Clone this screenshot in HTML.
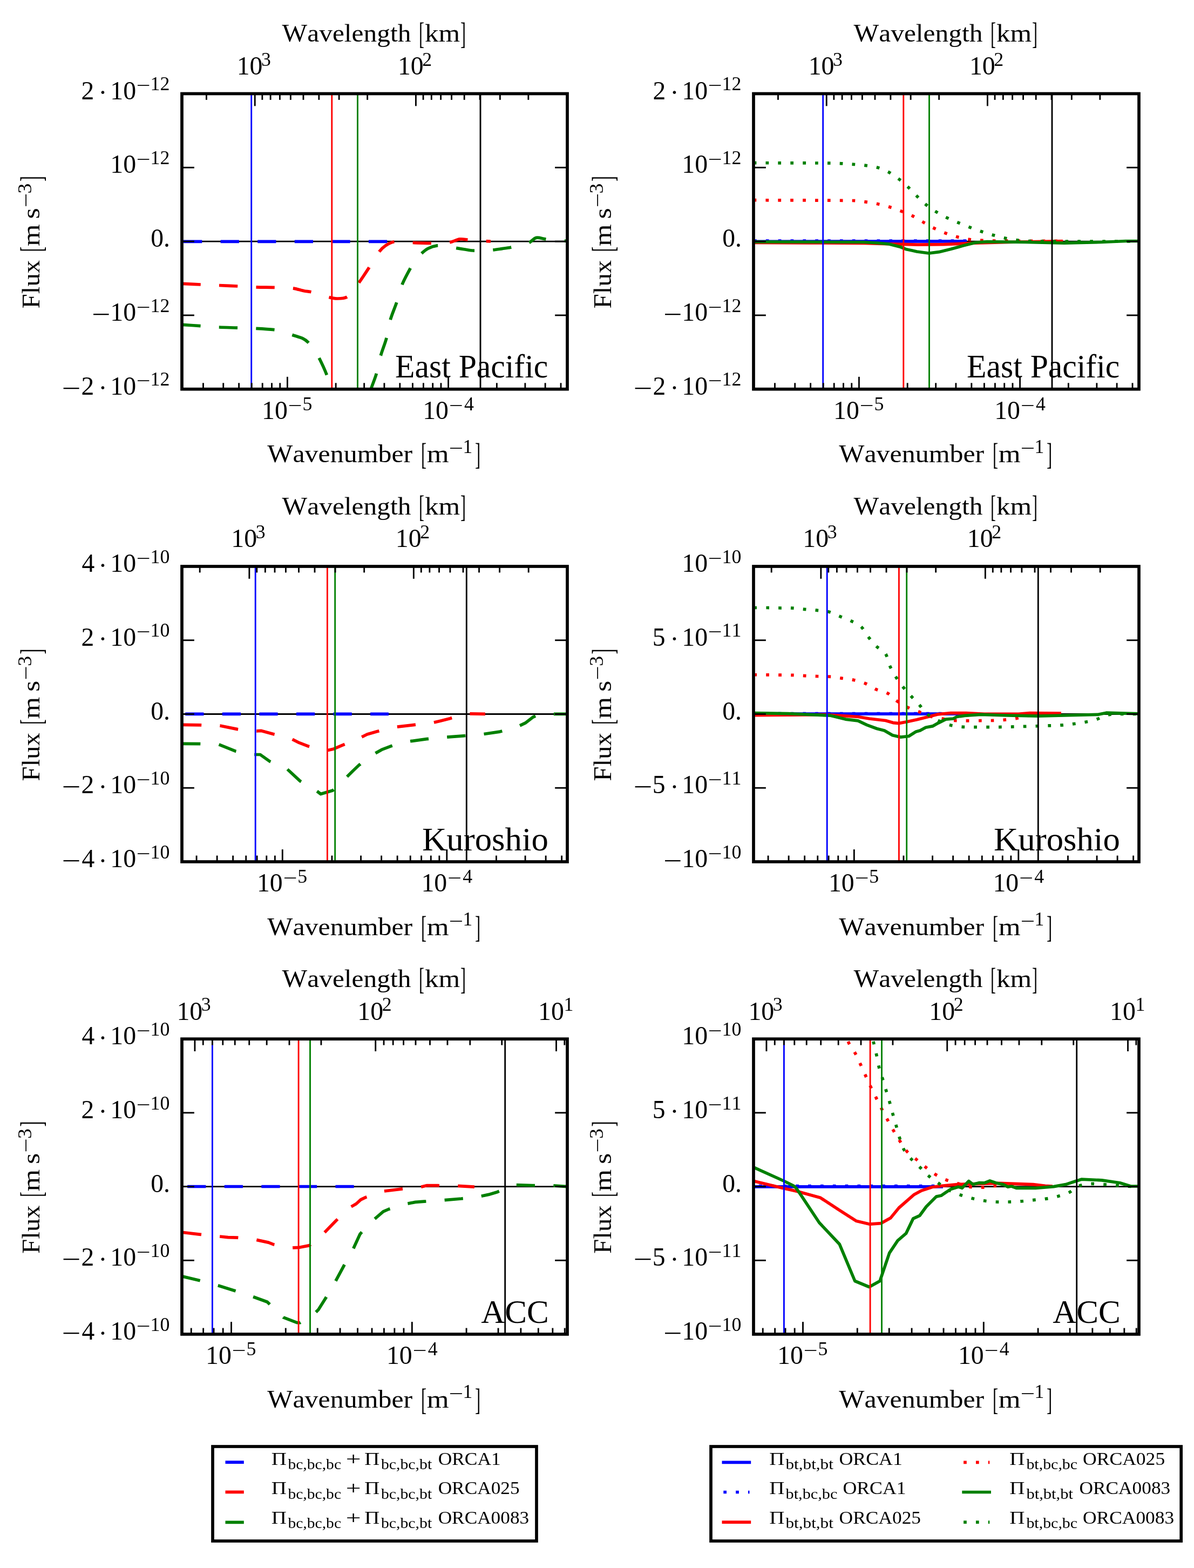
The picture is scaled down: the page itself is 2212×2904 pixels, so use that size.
<!DOCTYPE html>
<html><head><meta charset="utf-8"><title>Flux spectra</title><style>html,body{margin:0;padding:0;background:#fff}svg{display:block}text{font-kerning:none;font-variant-ligatures:none;white-space:pre}</style></head>
<body>
<svg width="2212" height="2904" viewBox="0 0 2212 2904">
<rect width="2212" height="2904" fill="#fff"/>
<g font-family="'Liberation Serif', serif" fill="#000" stroke-linecap="butt">
<clipPath id="clip00"><rect x="337.00" y="173.50" width="714.00" height="547.20"/></clipPath>
<line x1="337.00" y1="447.10" x2="1051.00" y2="447.10" stroke="#000" stroke-width="2.86" clip-path="url(#clip00)"/>
<path d="M337.00,447.40 L720.00,447.40" fill="none" stroke="#0000ff" stroke-width="5.71" stroke-linejoin="round" stroke-dasharray="34.29 34.29" stroke-dashoffset="65.58" clip-path="url(#clip00)"/>
<path d="M337.00,525.30 C342.83,525.58 360.50,526.47 372.00,527.00 C383.33,527.53 394.67,528.00 406.00,528.50 C417.33,529.00 428.67,529.45 440.00,530.00 C451.33,530.55 462.67,531.40 474.00,531.80 C485.33,532.20 496.83,532.10 508.00,532.40 C519.00,532.70 531.83,532.53 541.00,533.60 C548.48,534.47 557.27,537.65 563.00,538.80 C567.09,539.62 571.30,539.71 575.40,540.50 C579.90,541.37 585.20,542.59 590.00,544.00 C595.60,545.65 603.17,548.90 609.00,550.40 C614.23,551.75 619.60,553.06 625.00,553.00 C630.67,552.93 638.17,552.67 643.00,550.00 C647.83,547.33 650.38,541.37 654.00,537.00 C657.70,532.53 661.74,528.01 665.20,523.20 C670.18,516.27 677.78,504.74 683.90,495.40 C690.15,485.87 697.63,472.77 702.70,466.00 C705.92,461.70 709.82,457.76 714.30,454.80 C718.92,451.75 724.78,448.70 730.40,447.70 C736.02,446.70 742.20,448.50 748.00,448.80 C753.73,449.10 759.46,449.32 765.20,449.50 C773.72,449.77 790.47,450.32 799.10,450.40 C805.07,450.46 811.20,450.30 817.00,450.00 C822.65,449.71 828.36,449.73 833.90,448.60 C839.70,447.42 846.28,443.65 851.80,442.90 C856.84,442.22 861.94,443.61 867.00,444.10 C872.37,444.62 878.31,445.61 884.00,446.00 C891.00,446.48 904.83,446.83 909.00,447.00" fill="none" stroke="#ff0000" stroke-width="5.71" stroke-linejoin="round" stroke-dasharray="34.29 34.29" stroke-dashoffset="68.09" clip-path="url(#clip00)"/>
<path d="M337.00,601.30 C342.67,601.68 359.67,602.83 371.00,603.60 C382.47,604.38 394.45,605.42 405.80,606.00 C416.89,606.57 428.00,606.71 439.10,607.10 C450.47,607.50 462.60,607.80 474.00,608.40 C485.18,608.99 499.00,609.77 507.50,610.70 C513.40,611.35 519.47,612.45 525.00,614.00 C530.39,615.51 535.43,618.10 540.70,620.00 C546.77,622.18 556.33,624.72 561.40,627.10 C565.04,628.81 568.27,631.43 571.10,634.30 C574.53,637.78 578.73,643.37 582.00,648.00 C585.18,652.51 588.20,657.18 590.70,662.10 C594.47,669.52 600.72,682.52 604.60,692.50 C608.34,702.12 611.42,712.01 614.00,722.00 C616.90,733.25 620.67,753.67 622.00,760.00" fill="none" stroke="#008000" stroke-width="5.71" stroke-linejoin="round" stroke-dasharray="34.29 34.29" stroke-dashoffset="68.20" clip-path="url(#clip00)"/>
<path d="M682.00,740.00 C682.92,736.67 685.39,726.58 687.50,720.00 C690.05,712.05 694.57,701.71 697.30,692.30 C700.28,682.03 702.28,669.40 705.40,658.40 C708.47,647.56 713.07,637.18 716.00,626.30 C718.97,615.28 720.07,603.32 723.20,592.30 C726.31,581.36 731.23,570.92 734.80,560.20 C738.34,549.55 740.43,538.42 744.60,528.00 C748.77,517.58 755.57,505.37 759.80,497.70 C762.82,492.24 766.57,486.62 770.00,482.00 C773.16,477.75 776.58,473.63 780.40,470.00 C784.22,466.37 788.20,462.63 792.90,460.20 C797.80,457.67 804.12,455.50 809.80,454.80 C815.48,454.10 821.30,455.26 827.00,456.00 C832.80,456.75 839.10,458.33 844.60,459.30 C849.72,460.20 854.85,461.04 860.00,461.80 C865.55,462.62 872.07,463.92 877.90,464.20 C883.60,464.48 889.30,463.70 895.00,463.50 C900.75,463.30 906.62,463.48 912.40,463.00 C918.27,462.52 924.65,461.40 930.20,460.60 C935.37,459.85 940.58,459.26 945.70,458.20 C951.00,457.10 956.55,455.33 962.00,454.00 C967.65,452.62 974.38,452.17 979.60,449.90 C984.70,447.69 988.33,441.60 993.30,440.40 C998.27,439.20 1004.03,441.94 1009.40,442.70 C1014.85,443.47 1020.44,444.49 1026.00,445.00 C1032.93,445.63 1046.83,446.25 1051.00,446.50" fill="none" stroke="#008000" stroke-width="5.71" stroke-linejoin="round" stroke-dasharray="34.29 34.29" stroke-dashoffset="52.18" clip-path="url(#clip00)"/>
<line x1="465.70" y1="173.50" x2="465.70" y2="720.70" stroke="#0000ff" stroke-width="2.86"/>
<line x1="614.80" y1="173.50" x2="614.80" y2="720.70" stroke="#ff0000" stroke-width="2.86"/>
<line x1="662.50" y1="173.50" x2="662.50" y2="720.70" stroke="#008000" stroke-width="2.86"/>
<line x1="890.00" y1="173.50" x2="890.00" y2="720.70" stroke="#000" stroke-width="2.86"/>
<line x1="376.48" y1="720.70" x2="376.48" y2="709.27" stroke="#000" stroke-width="2.86"/>
<line x1="413.73" y1="720.70" x2="413.73" y2="709.27" stroke="#000" stroke-width="2.86"/>
<line x1="442.63" y1="720.70" x2="442.63" y2="709.27" stroke="#000" stroke-width="2.86"/>
<line x1="466.24" y1="720.70" x2="466.24" y2="709.27" stroke="#000" stroke-width="2.86"/>
<line x1="486.21" y1="720.70" x2="486.21" y2="709.27" stroke="#000" stroke-width="2.86"/>
<line x1="503.50" y1="720.70" x2="503.50" y2="709.27" stroke="#000" stroke-width="2.86"/>
<line x1="518.76" y1="720.70" x2="518.76" y2="709.27" stroke="#000" stroke-width="2.86"/>
<line x1="532.40" y1="720.70" x2="532.40" y2="697.84" stroke="#000" stroke-width="2.86"/>
<line x1="622.17" y1="720.70" x2="622.17" y2="709.27" stroke="#000" stroke-width="2.86"/>
<line x1="674.68" y1="720.70" x2="674.68" y2="709.27" stroke="#000" stroke-width="2.86"/>
<line x1="711.93" y1="720.70" x2="711.93" y2="709.27" stroke="#000" stroke-width="2.86"/>
<line x1="740.83" y1="720.70" x2="740.83" y2="709.27" stroke="#000" stroke-width="2.86"/>
<line x1="764.44" y1="720.70" x2="764.44" y2="709.27" stroke="#000" stroke-width="2.86"/>
<line x1="784.41" y1="720.70" x2="784.41" y2="709.27" stroke="#000" stroke-width="2.86"/>
<line x1="801.70" y1="720.70" x2="801.70" y2="709.27" stroke="#000" stroke-width="2.86"/>
<line x1="816.96" y1="720.70" x2="816.96" y2="709.27" stroke="#000" stroke-width="2.86"/>
<line x1="830.60" y1="720.70" x2="830.60" y2="697.84" stroke="#000" stroke-width="2.86"/>
<line x1="920.37" y1="720.70" x2="920.37" y2="709.27" stroke="#000" stroke-width="2.86"/>
<line x1="972.88" y1="720.70" x2="972.88" y2="709.27" stroke="#000" stroke-width="2.86"/>
<line x1="1010.13" y1="720.70" x2="1010.13" y2="709.27" stroke="#000" stroke-width="2.86"/>
<line x1="1039.03" y1="720.70" x2="1039.03" y2="709.27" stroke="#000" stroke-width="2.86"/>
<line x1="978.85" y1="173.50" x2="978.85" y2="184.93" stroke="#000" stroke-width="2.86"/>
<line x1="926.34" y1="173.50" x2="926.34" y2="184.93" stroke="#000" stroke-width="2.86"/>
<line x1="889.08" y1="173.50" x2="889.08" y2="184.93" stroke="#000" stroke-width="2.86"/>
<line x1="860.18" y1="173.50" x2="860.18" y2="184.93" stroke="#000" stroke-width="2.86"/>
<line x1="836.57" y1="173.50" x2="836.57" y2="184.93" stroke="#000" stroke-width="2.86"/>
<line x1="816.61" y1="173.50" x2="816.61" y2="184.93" stroke="#000" stroke-width="2.86"/>
<line x1="799.32" y1="173.50" x2="799.32" y2="184.93" stroke="#000" stroke-width="2.86"/>
<line x1="784.06" y1="173.50" x2="784.06" y2="184.93" stroke="#000" stroke-width="2.86"/>
<line x1="770.42" y1="173.50" x2="770.42" y2="196.36" stroke="#000" stroke-width="2.86"/>
<line x1="680.65" y1="173.50" x2="680.65" y2="184.93" stroke="#000" stroke-width="2.86"/>
<line x1="628.14" y1="173.50" x2="628.14" y2="184.93" stroke="#000" stroke-width="2.86"/>
<line x1="590.88" y1="173.50" x2="590.88" y2="184.93" stroke="#000" stroke-width="2.86"/>
<line x1="561.98" y1="173.50" x2="561.98" y2="184.93" stroke="#000" stroke-width="2.86"/>
<line x1="538.37" y1="173.50" x2="538.37" y2="184.93" stroke="#000" stroke-width="2.86"/>
<line x1="518.41" y1="173.50" x2="518.41" y2="184.93" stroke="#000" stroke-width="2.86"/>
<line x1="501.12" y1="173.50" x2="501.12" y2="184.93" stroke="#000" stroke-width="2.86"/>
<line x1="485.86" y1="173.50" x2="485.86" y2="184.93" stroke="#000" stroke-width="2.86"/>
<line x1="472.22" y1="173.50" x2="472.22" y2="196.36" stroke="#000" stroke-width="2.86"/>
<line x1="382.45" y1="173.50" x2="382.45" y2="184.93" stroke="#000" stroke-width="2.86"/>
<line x1="337.00" y1="173.50" x2="359.86" y2="173.50" stroke="#000" stroke-width="2.86"/>
<line x1="1051.00" y1="173.50" x2="1028.14" y2="173.50" stroke="#000" stroke-width="2.86"/>
<line x1="337.00" y1="310.30" x2="359.86" y2="310.30" stroke="#000" stroke-width="2.86"/>
<line x1="1051.00" y1="310.30" x2="1028.14" y2="310.30" stroke="#000" stroke-width="2.86"/>
<line x1="337.00" y1="447.10" x2="359.86" y2="447.10" stroke="#000" stroke-width="2.86"/>
<line x1="1051.00" y1="447.10" x2="1028.14" y2="447.10" stroke="#000" stroke-width="2.86"/>
<line x1="337.00" y1="583.90" x2="359.86" y2="583.90" stroke="#000" stroke-width="2.86"/>
<line x1="1051.00" y1="583.90" x2="1028.14" y2="583.90" stroke="#000" stroke-width="2.86"/>
<line x1="337.00" y1="720.70" x2="359.86" y2="720.70" stroke="#000" stroke-width="2.86"/>
<line x1="1051.00" y1="720.70" x2="1028.14" y2="720.70" stroke="#000" stroke-width="2.86"/>
<rect x="337.00" y="173.50" width="714.00" height="547.20" fill="none" stroke="#000" stroke-width="5.71"/>
<text x="204.30" y="183.50" font-size="47.60" textLength="47.82" lengthAdjust="spacingAndGlyphs">10</text>
<text x="252.61" y="170.20" font-size="35.80" textLength="25.94" lengthAdjust="spacingAndGlyphs">−</text>
<text x="278.55" y="167.20" font-size="35.80">12</text>
<text x="150.41" y="183.50" font-size="47.60">2</text>
<text x="182.49" y="187.00" font-size="47.60">·</text>
<text x="204.30" y="320.30" font-size="47.60" textLength="47.82" lengthAdjust="spacingAndGlyphs">10</text>
<text x="252.61" y="307.00" font-size="35.80" textLength="25.94" lengthAdjust="spacingAndGlyphs">−</text>
<text x="278.55" y="304.00" font-size="35.80">12</text>
<text x="279.19" y="457.10" font-size="47.60">0.</text>
<text x="204.30" y="593.90" font-size="47.60" textLength="47.82" lengthAdjust="spacingAndGlyphs">10</text>
<text x="252.61" y="580.60" font-size="35.80" textLength="25.94" lengthAdjust="spacingAndGlyphs">−</text>
<text x="278.55" y="577.60" font-size="35.80">12</text>
<text x="170.24" y="597.90" font-size="47.60" textLength="34.66" lengthAdjust="spacingAndGlyphs">−</text>
<text x="204.30" y="730.70" font-size="47.60" textLength="47.82" lengthAdjust="spacingAndGlyphs">10</text>
<text x="252.61" y="717.40" font-size="35.80" textLength="25.94" lengthAdjust="spacingAndGlyphs">−</text>
<text x="278.55" y="714.40" font-size="35.80">12</text>
<text x="150.41" y="730.70" font-size="47.60">2</text>
<text x="182.49" y="734.20" font-size="47.60">·</text>
<text x="114.80" y="734.70" font-size="47.60" textLength="35.15" lengthAdjust="spacingAndGlyphs">−</text>
<text x="485.00" y="776.00" font-size="47.60" textLength="47.82" lengthAdjust="spacingAndGlyphs">10</text>
<text x="533.51" y="762.70" font-size="35.80" textLength="25.94" lengthAdjust="spacingAndGlyphs">−</text>
<text x="560.42" y="759.70" font-size="35.80">5</text>
<text x="783.20" y="776.00" font-size="47.60" textLength="47.82" lengthAdjust="spacingAndGlyphs">10</text>
<text x="831.71" y="762.70" font-size="35.80" textLength="25.94" lengthAdjust="spacingAndGlyphs">−</text>
<text x="860.00" y="759.70" font-size="35.80">4</text>
<text x="438.71" y="137.90" font-size="47.60" textLength="47.82" lengthAdjust="spacingAndGlyphs">10</text>
<text x="484.00" y="121.60" font-size="35.80">3</text>
<text x="736.91" y="137.90" font-size="47.60" textLength="47.82" lengthAdjust="spacingAndGlyphs">10</text>
<text x="782.34" y="121.60" font-size="35.80">2</text>
<text x="522.55" y="77.10" font-size="47.20" textLength="238.90" lengthAdjust="spacingAndGlyphs">Wavelength</text>
<text x="776.07" y="81.10" font-size="57.40" textLength="10.02" lengthAdjust="spacingAndGlyphs">[</text>
<text x="786.93" y="77.10" font-size="47.20" textLength="65.12" lengthAdjust="spacingAndGlyphs">km</text>
<text x="852.91" y="81.10" font-size="57.40" textLength="10.02" lengthAdjust="spacingAndGlyphs">]</text>
<text x="495.35" y="856.30" font-size="47.20" textLength="268.89" lengthAdjust="spacingAndGlyphs">Wavenumber</text>
<text x="780.03" y="860.30" font-size="57.40" textLength="10.17" lengthAdjust="spacingAndGlyphs">[</text>
<text x="790.70" y="856.30" font-size="47.20" textLength="40.93" lengthAdjust="spacingAndGlyphs">m</text>
<text x="831.56" y="842.20" font-size="35.80" textLength="26.54" lengthAdjust="spacingAndGlyphs">−</text>
<text x="857.58" y="838.90" font-size="35.80" textLength="17.75" lengthAdjust="spacingAndGlyphs">1</text>
<text x="880.00" y="860.30" font-size="57.40" textLength="10.17" lengthAdjust="spacingAndGlyphs">]</text>
<g transform="translate(73.00,570.00) rotate(-90)">
<text x="-1.41" y="0.00" font-size="47.20" textLength="89.71" lengthAdjust="spacingAndGlyphs">Flux</text>
<text x="103.40" y="4.00" font-size="57.40" textLength="9.87" lengthAdjust="spacingAndGlyphs">[</text>
<text x="114.00" y="0.00" font-size="47.20" textLength="40.72" lengthAdjust="spacingAndGlyphs">m</text>
<text x="164.46" y="0.00" font-size="47.20" textLength="20.33" lengthAdjust="spacingAndGlyphs">s</text>
<text x="185.68" y="-13.00" font-size="35.80" textLength="26.30" lengthAdjust="spacingAndGlyphs">−</text>
<text x="211.59" y="-15.00" font-size="35.80" textLength="18.88" lengthAdjust="spacingAndGlyphs">3</text>
<text x="234.03" y="4.00" font-size="57.40" textLength="9.87" lengthAdjust="spacingAndGlyphs">]</text>
</g>
<text x="732.08" y="699.20" font-size="60.30" textLength="283.15" lengthAdjust="spacingAndGlyphs">East Pacific</text>
<clipPath id="clip01"><rect x="1396.00" y="173.50" width="714.00" height="547.20"/></clipPath>
<line x1="1396.00" y1="447.10" x2="2110.00" y2="447.10" stroke="#000" stroke-width="2.86" clip-path="url(#clip01)"/>
<path d="M1396.00,447.30 L1791.00,446.80" fill="none" stroke="#0000ff" stroke-width="5.71" stroke-linejoin="round" clip-path="url(#clip01)"/>
<path d="M1396.00,446.00 L1791.00,446.00" fill="none" stroke="#0000ff" stroke-width="5.71" stroke-linejoin="round" stroke-dasharray="5.71 17.14" clip-path="url(#clip01)"/>
<path d="M1396.00,449.50 L1500.00,449.80 L1600.00,450.50 L1650.00,451.80 L1700.00,453.20 L1749.00,452.60 L1806.00,450.20 L1870.00,448.50 L1969.00,446.50" fill="none" stroke="#ff0000" stroke-width="5.71" stroke-linejoin="round" clip-path="url(#clip01)"/>
<path d="M1396.00,370.70 C1426.67,370.83 1545.47,370.97 1580.00,371.50 C1587.77,371.62 1595.50,372.85 1603.20,373.90 C1610.92,374.95 1618.73,376.18 1626.30,377.80 C1633.81,379.40 1641.38,381.38 1648.60,383.60 C1655.71,385.78 1662.67,388.40 1669.60,391.10 C1676.67,393.85 1684.22,396.72 1691.00,400.10 C1697.67,403.43 1703.83,407.70 1710.30,411.40 C1716.85,415.15 1723.50,419.23 1730.30,422.60 C1737.07,425.95 1744.08,428.93 1751.10,431.60 C1758.09,434.26 1765.18,436.68 1772.40,438.60 C1779.73,440.55 1787.62,442.20 1795.10,443.30 C1802.45,444.38 1809.89,444.76 1817.30,445.20 C1824.92,445.65 1832.96,445.93 1840.80,446.00 C1866.08,446.22 1947.63,446.42 1969.00,446.50" fill="none" stroke="#ff0000" stroke-width="5.71" stroke-linejoin="round" stroke-dasharray="5.71 17.14" stroke-dashoffset="0.26" clip-path="url(#clip01)"/>
<path d="M1396.00,447.80 L1600.00,448.50 L1625.70,450.00 L1647.00,452.00 L1668.60,457.50 L1679.30,461.80 L1690.00,464.00 L1698.60,466.00 L1721.00,469.00 L1739.50,466.70 L1761.80,461.30 L1784.00,455.10 L1806.20,449.40 L1828.50,447.70 L1900.00,448.50 L1971.70,450.20 L2040.00,448.50 L2085.40,446.50 L2110.00,446.50" fill="none" stroke="#008000" stroke-width="5.71" stroke-linejoin="round" clip-path="url(#clip01)"/>
<path d="M1396.00,301.70 C1419.22,301.77 1508.30,301.92 1535.30,302.10 C1542.87,302.15 1550.44,302.43 1558.00,302.80 C1565.57,303.17 1573.17,303.70 1580.70,304.30 C1588.21,304.90 1595.73,305.40 1603.20,306.40 C1610.70,307.40 1618.45,308.22 1625.70,310.30 C1632.95,312.38 1640.05,315.29 1646.70,318.90 C1653.38,322.53 1659.83,327.47 1665.80,332.10 C1671.64,336.63 1677.13,341.61 1682.50,346.70 C1687.97,351.88 1693.22,357.90 1698.60,363.20 C1703.89,368.41 1709.05,373.80 1714.80,378.50 C1720.58,383.23 1726.92,387.57 1733.30,391.60 C1739.68,395.63 1746.33,399.33 1753.10,402.70 C1759.90,406.08 1767.10,408.97 1774.10,411.90 C1781.05,414.81 1788.06,417.60 1795.10,420.30 C1802.18,423.02 1809.40,425.77 1816.60,428.20 C1823.77,430.62 1831.02,432.82 1838.30,434.90 C1845.63,437.00 1853.18,439.17 1860.60,440.80 C1867.94,442.42 1875.34,443.77 1882.80,444.70 C1890.42,445.65 1898.45,446.23 1906.30,446.50 C1917.50,446.88 1935.43,446.96 1950.00,447.00 C1983.95,447.08 2083.33,447.00 2110.00,447.00" fill="none" stroke="#008000" stroke-width="5.71" stroke-linejoin="round" stroke-dasharray="5.71 17.14" stroke-dashoffset="0.26" clip-path="url(#clip01)"/>
<line x1="1524.70" y1="173.50" x2="1524.70" y2="720.70" stroke="#0000ff" stroke-width="2.86"/>
<line x1="1673.80" y1="173.50" x2="1673.80" y2="720.70" stroke="#ff0000" stroke-width="2.86"/>
<line x1="1721.50" y1="173.50" x2="1721.50" y2="720.70" stroke="#008000" stroke-width="2.86"/>
<line x1="1949.00" y1="173.50" x2="1949.00" y2="720.70" stroke="#000" stroke-width="2.86"/>
<line x1="1435.48" y1="720.70" x2="1435.48" y2="709.27" stroke="#000" stroke-width="2.86"/>
<line x1="1472.73" y1="720.70" x2="1472.73" y2="709.27" stroke="#000" stroke-width="2.86"/>
<line x1="1501.63" y1="720.70" x2="1501.63" y2="709.27" stroke="#000" stroke-width="2.86"/>
<line x1="1525.24" y1="720.70" x2="1525.24" y2="709.27" stroke="#000" stroke-width="2.86"/>
<line x1="1545.21" y1="720.70" x2="1545.21" y2="709.27" stroke="#000" stroke-width="2.86"/>
<line x1="1562.50" y1="720.70" x2="1562.50" y2="709.27" stroke="#000" stroke-width="2.86"/>
<line x1="1577.76" y1="720.70" x2="1577.76" y2="709.27" stroke="#000" stroke-width="2.86"/>
<line x1="1591.40" y1="720.70" x2="1591.40" y2="697.84" stroke="#000" stroke-width="2.86"/>
<line x1="1681.17" y1="720.70" x2="1681.17" y2="709.27" stroke="#000" stroke-width="2.86"/>
<line x1="1733.68" y1="720.70" x2="1733.68" y2="709.27" stroke="#000" stroke-width="2.86"/>
<line x1="1770.93" y1="720.70" x2="1770.93" y2="709.27" stroke="#000" stroke-width="2.86"/>
<line x1="1799.83" y1="720.70" x2="1799.83" y2="709.27" stroke="#000" stroke-width="2.86"/>
<line x1="1823.44" y1="720.70" x2="1823.44" y2="709.27" stroke="#000" stroke-width="2.86"/>
<line x1="1843.41" y1="720.70" x2="1843.41" y2="709.27" stroke="#000" stroke-width="2.86"/>
<line x1="1860.70" y1="720.70" x2="1860.70" y2="709.27" stroke="#000" stroke-width="2.86"/>
<line x1="1875.96" y1="720.70" x2="1875.96" y2="709.27" stroke="#000" stroke-width="2.86"/>
<line x1="1889.60" y1="720.70" x2="1889.60" y2="697.84" stroke="#000" stroke-width="2.86"/>
<line x1="1979.37" y1="720.70" x2="1979.37" y2="709.27" stroke="#000" stroke-width="2.86"/>
<line x1="2031.88" y1="720.70" x2="2031.88" y2="709.27" stroke="#000" stroke-width="2.86"/>
<line x1="2069.13" y1="720.70" x2="2069.13" y2="709.27" stroke="#000" stroke-width="2.86"/>
<line x1="2098.03" y1="720.70" x2="2098.03" y2="709.27" stroke="#000" stroke-width="2.86"/>
<line x1="2037.85" y1="173.50" x2="2037.85" y2="184.93" stroke="#000" stroke-width="2.86"/>
<line x1="1985.34" y1="173.50" x2="1985.34" y2="184.93" stroke="#000" stroke-width="2.86"/>
<line x1="1948.08" y1="173.50" x2="1948.08" y2="184.93" stroke="#000" stroke-width="2.86"/>
<line x1="1919.18" y1="173.50" x2="1919.18" y2="184.93" stroke="#000" stroke-width="2.86"/>
<line x1="1895.57" y1="173.50" x2="1895.57" y2="184.93" stroke="#000" stroke-width="2.86"/>
<line x1="1875.61" y1="173.50" x2="1875.61" y2="184.93" stroke="#000" stroke-width="2.86"/>
<line x1="1858.32" y1="173.50" x2="1858.32" y2="184.93" stroke="#000" stroke-width="2.86"/>
<line x1="1843.06" y1="173.50" x2="1843.06" y2="184.93" stroke="#000" stroke-width="2.86"/>
<line x1="1829.42" y1="173.50" x2="1829.42" y2="196.36" stroke="#000" stroke-width="2.86"/>
<line x1="1739.65" y1="173.50" x2="1739.65" y2="184.93" stroke="#000" stroke-width="2.86"/>
<line x1="1687.14" y1="173.50" x2="1687.14" y2="184.93" stroke="#000" stroke-width="2.86"/>
<line x1="1649.88" y1="173.50" x2="1649.88" y2="184.93" stroke="#000" stroke-width="2.86"/>
<line x1="1620.98" y1="173.50" x2="1620.98" y2="184.93" stroke="#000" stroke-width="2.86"/>
<line x1="1597.37" y1="173.50" x2="1597.37" y2="184.93" stroke="#000" stroke-width="2.86"/>
<line x1="1577.41" y1="173.50" x2="1577.41" y2="184.93" stroke="#000" stroke-width="2.86"/>
<line x1="1560.12" y1="173.50" x2="1560.12" y2="184.93" stroke="#000" stroke-width="2.86"/>
<line x1="1544.86" y1="173.50" x2="1544.86" y2="184.93" stroke="#000" stroke-width="2.86"/>
<line x1="1531.22" y1="173.50" x2="1531.22" y2="196.36" stroke="#000" stroke-width="2.86"/>
<line x1="1441.45" y1="173.50" x2="1441.45" y2="184.93" stroke="#000" stroke-width="2.86"/>
<line x1="1396.00" y1="173.50" x2="1418.86" y2="173.50" stroke="#000" stroke-width="2.86"/>
<line x1="2110.00" y1="173.50" x2="2087.14" y2="173.50" stroke="#000" stroke-width="2.86"/>
<line x1="1396.00" y1="310.30" x2="1418.86" y2="310.30" stroke="#000" stroke-width="2.86"/>
<line x1="2110.00" y1="310.30" x2="2087.14" y2="310.30" stroke="#000" stroke-width="2.86"/>
<line x1="1396.00" y1="447.10" x2="1418.86" y2="447.10" stroke="#000" stroke-width="2.86"/>
<line x1="2110.00" y1="447.10" x2="2087.14" y2="447.10" stroke="#000" stroke-width="2.86"/>
<line x1="1396.00" y1="583.90" x2="1418.86" y2="583.90" stroke="#000" stroke-width="2.86"/>
<line x1="2110.00" y1="583.90" x2="2087.14" y2="583.90" stroke="#000" stroke-width="2.86"/>
<line x1="1396.00" y1="720.70" x2="1418.86" y2="720.70" stroke="#000" stroke-width="2.86"/>
<line x1="2110.00" y1="720.70" x2="2087.14" y2="720.70" stroke="#000" stroke-width="2.86"/>
<rect x="1396.00" y="173.50" width="714.00" height="547.20" fill="none" stroke="#000" stroke-width="5.71"/>
<text x="1263.30" y="183.50" font-size="47.60" textLength="47.82" lengthAdjust="spacingAndGlyphs">10</text>
<text x="1311.61" y="170.20" font-size="35.80" textLength="25.94" lengthAdjust="spacingAndGlyphs">−</text>
<text x="1337.55" y="167.20" font-size="35.80">12</text>
<text x="1209.41" y="183.50" font-size="47.60">2</text>
<text x="1241.49" y="187.00" font-size="47.60">·</text>
<text x="1263.30" y="320.30" font-size="47.60" textLength="47.82" lengthAdjust="spacingAndGlyphs">10</text>
<text x="1311.61" y="307.00" font-size="35.80" textLength="25.94" lengthAdjust="spacingAndGlyphs">−</text>
<text x="1337.55" y="304.00" font-size="35.80">12</text>
<text x="1338.19" y="457.10" font-size="47.60">0.</text>
<text x="1263.30" y="593.90" font-size="47.60" textLength="47.82" lengthAdjust="spacingAndGlyphs">10</text>
<text x="1311.61" y="580.60" font-size="35.80" textLength="25.94" lengthAdjust="spacingAndGlyphs">−</text>
<text x="1337.55" y="577.60" font-size="35.80">12</text>
<text x="1229.24" y="597.90" font-size="47.60" textLength="34.66" lengthAdjust="spacingAndGlyphs">−</text>
<text x="1263.30" y="730.70" font-size="47.60" textLength="47.82" lengthAdjust="spacingAndGlyphs">10</text>
<text x="1311.61" y="717.40" font-size="35.80" textLength="25.94" lengthAdjust="spacingAndGlyphs">−</text>
<text x="1337.55" y="714.40" font-size="35.80">12</text>
<text x="1209.41" y="730.70" font-size="47.60">2</text>
<text x="1241.49" y="734.20" font-size="47.60">·</text>
<text x="1173.80" y="734.70" font-size="47.60" textLength="35.15" lengthAdjust="spacingAndGlyphs">−</text>
<text x="1544.00" y="776.00" font-size="47.60" textLength="47.82" lengthAdjust="spacingAndGlyphs">10</text>
<text x="1592.51" y="762.70" font-size="35.80" textLength="25.94" lengthAdjust="spacingAndGlyphs">−</text>
<text x="1619.42" y="759.70" font-size="35.80">5</text>
<text x="1842.20" y="776.00" font-size="47.60" textLength="47.82" lengthAdjust="spacingAndGlyphs">10</text>
<text x="1890.71" y="762.70" font-size="35.80" textLength="25.94" lengthAdjust="spacingAndGlyphs">−</text>
<text x="1919.00" y="759.70" font-size="35.80">4</text>
<text x="1497.71" y="137.90" font-size="47.60" textLength="47.82" lengthAdjust="spacingAndGlyphs">10</text>
<text x="1543.00" y="121.60" font-size="35.80">3</text>
<text x="1795.91" y="137.90" font-size="47.60" textLength="47.82" lengthAdjust="spacingAndGlyphs">10</text>
<text x="1841.34" y="121.60" font-size="35.80">2</text>
<text x="1581.55" y="77.10" font-size="47.20" textLength="238.90" lengthAdjust="spacingAndGlyphs">Wavelength</text>
<text x="1835.07" y="81.10" font-size="57.40" textLength="10.02" lengthAdjust="spacingAndGlyphs">[</text>
<text x="1845.93" y="77.10" font-size="47.20" textLength="65.12" lengthAdjust="spacingAndGlyphs">km</text>
<text x="1911.91" y="81.10" font-size="57.40" textLength="10.02" lengthAdjust="spacingAndGlyphs">]</text>
<text x="1554.35" y="856.30" font-size="47.20" textLength="268.89" lengthAdjust="spacingAndGlyphs">Wavenumber</text>
<text x="1839.03" y="860.30" font-size="57.40" textLength="10.17" lengthAdjust="spacingAndGlyphs">[</text>
<text x="1849.70" y="856.30" font-size="47.20" textLength="40.93" lengthAdjust="spacingAndGlyphs">m</text>
<text x="1890.56" y="842.20" font-size="35.80" textLength="26.54" lengthAdjust="spacingAndGlyphs">−</text>
<text x="1916.58" y="838.90" font-size="35.80" textLength="17.75" lengthAdjust="spacingAndGlyphs">1</text>
<text x="1939.00" y="860.30" font-size="57.40" textLength="10.17" lengthAdjust="spacingAndGlyphs">]</text>
<g transform="translate(1132.00,570.00) rotate(-90)">
<text x="-1.41" y="0.00" font-size="47.20" textLength="89.71" lengthAdjust="spacingAndGlyphs">Flux</text>
<text x="103.40" y="4.00" font-size="57.40" textLength="9.87" lengthAdjust="spacingAndGlyphs">[</text>
<text x="114.00" y="0.00" font-size="47.20" textLength="40.72" lengthAdjust="spacingAndGlyphs">m</text>
<text x="164.46" y="0.00" font-size="47.20" textLength="20.33" lengthAdjust="spacingAndGlyphs">s</text>
<text x="185.68" y="-13.00" font-size="35.80" textLength="26.30" lengthAdjust="spacingAndGlyphs">−</text>
<text x="211.59" y="-15.00" font-size="35.80" textLength="18.88" lengthAdjust="spacingAndGlyphs">3</text>
<text x="234.03" y="4.00" font-size="57.40" textLength="9.87" lengthAdjust="spacingAndGlyphs">]</text>
</g>
<text x="1791.08" y="699.20" font-size="60.30" textLength="283.15" lengthAdjust="spacingAndGlyphs">East Pacific</text>
<clipPath id="clip10"><rect x="337.00" y="1049.00" width="714.00" height="547.00"/></clipPath>
<line x1="337.00" y1="1322.50" x2="1051.00" y2="1322.50" stroke="#000" stroke-width="2.86" clip-path="url(#clip10)"/>
<path d="M337.00,1322.30 L720.00,1322.30" fill="none" stroke="#0000ff" stroke-width="5.71" stroke-linejoin="round" stroke-dasharray="34.29 34.29" stroke-dashoffset="62.38" clip-path="url(#clip10)"/>
<path d="M337.00,1342.30 L373.00,1342.90 L407.50,1344.00 L440.10,1350.60 L458.00,1353.00 L475.40,1353.90 L484.20,1353.40 L508.00,1360.00 L525.00,1364.00 L541.00,1368.90 L552.50,1374.80 L571.20,1382.10 L588.00,1387.00 L604.90,1390.20 L618.50,1386.90 L635.00,1379.90 L652.00,1373.00 L668.10,1366.00 L680.20,1360.00 L699.20,1354.50 L716.00,1350.00 L733.20,1346.50 L766.00,1342.70 L783.00,1340.50 L801.00,1338.60 L815.70,1335.20 L833.40,1330.70 L849.00,1326.00 L865.50,1321.70 L899.00,1322.30" fill="none" stroke="#ff0000" stroke-width="5.71" stroke-linejoin="round" stroke-dasharray="34.29 34.29" stroke-dashoffset="66.64" clip-path="url(#clip10)"/>
<path d="M337.00,1377.40 L370.70,1377.70 L388.00,1378.20 L405.60,1378.80 L436.80,1391.30 L453.00,1395.00 L471.00,1397.50 L482.00,1397.50 L499.60,1410.00 L515.00,1417.00 L530.90,1423.30 L555.80,1446.40 L570.00,1455.00 L585.50,1464.00 L594.30,1470.60 L616.30,1464.00 L630.00,1452.00 L641.70,1439.80 L653.80,1427.70 L664.80,1417.30 L679.00,1406.00 L692.90,1396.50 L707.10,1388.40 L723.00,1382.30 L740.00,1377.00 L756.90,1373.20 L790.40,1368.70 L807.00,1367.00 L824.80,1365.30 L858.70,1362.80 L875.00,1361.50 L892.60,1360.10 L926.10,1355.10 L943.00,1351.00 L960.00,1345.40 L974.00,1338.60 L987.60,1328.00 L1000.00,1323.00 L1020.40,1322.30 L1051.00,1322.30" fill="none" stroke="#008000" stroke-width="5.71" stroke-linejoin="round" stroke-dasharray="34.29 34.29" stroke-dashoffset="68.54" clip-path="url(#clip10)"/>
<line x1="473.20" y1="1049.00" x2="473.20" y2="1596.00" stroke="#0000ff" stroke-width="2.86"/>
<line x1="606.40" y1="1049.00" x2="606.40" y2="1596.00" stroke="#ff0000" stroke-width="2.86"/>
<line x1="620.70" y1="1049.00" x2="620.70" y2="1596.00" stroke="#008000" stroke-width="2.86"/>
<line x1="864.30" y1="1049.00" x2="864.30" y2="1596.00" stroke="#000" stroke-width="2.86"/>
<line x1="364.08" y1="1596.00" x2="364.08" y2="1584.57" stroke="#000" stroke-width="2.86"/>
<line x1="402.13" y1="1596.00" x2="402.13" y2="1584.57" stroke="#000" stroke-width="2.86"/>
<line x1="431.64" y1="1596.00" x2="431.64" y2="1584.57" stroke="#000" stroke-width="2.86"/>
<line x1="455.75" y1="1596.00" x2="455.75" y2="1584.57" stroke="#000" stroke-width="2.86"/>
<line x1="476.13" y1="1596.00" x2="476.13" y2="1584.57" stroke="#000" stroke-width="2.86"/>
<line x1="493.79" y1="1596.00" x2="493.79" y2="1584.57" stroke="#000" stroke-width="2.86"/>
<line x1="509.37" y1="1596.00" x2="509.37" y2="1584.57" stroke="#000" stroke-width="2.86"/>
<line x1="523.30" y1="1596.00" x2="523.30" y2="1573.14" stroke="#000" stroke-width="2.86"/>
<line x1="614.96" y1="1596.00" x2="614.96" y2="1584.57" stroke="#000" stroke-width="2.86"/>
<line x1="668.58" y1="1596.00" x2="668.58" y2="1584.57" stroke="#000" stroke-width="2.86"/>
<line x1="706.63" y1="1596.00" x2="706.63" y2="1584.57" stroke="#000" stroke-width="2.86"/>
<line x1="736.14" y1="1596.00" x2="736.14" y2="1584.57" stroke="#000" stroke-width="2.86"/>
<line x1="760.25" y1="1596.00" x2="760.25" y2="1584.57" stroke="#000" stroke-width="2.86"/>
<line x1="780.63" y1="1596.00" x2="780.63" y2="1584.57" stroke="#000" stroke-width="2.86"/>
<line x1="798.29" y1="1596.00" x2="798.29" y2="1584.57" stroke="#000" stroke-width="2.86"/>
<line x1="813.87" y1="1596.00" x2="813.87" y2="1584.57" stroke="#000" stroke-width="2.86"/>
<line x1="827.80" y1="1596.00" x2="827.80" y2="1573.14" stroke="#000" stroke-width="2.86"/>
<line x1="919.46" y1="1596.00" x2="919.46" y2="1584.57" stroke="#000" stroke-width="2.86"/>
<line x1="973.08" y1="1596.00" x2="973.08" y2="1584.57" stroke="#000" stroke-width="2.86"/>
<line x1="1011.13" y1="1596.00" x2="1011.13" y2="1584.57" stroke="#000" stroke-width="2.86"/>
<line x1="1040.64" y1="1596.00" x2="1040.64" y2="1584.57" stroke="#000" stroke-width="2.86"/>
<line x1="979.18" y1="1049.00" x2="979.18" y2="1060.43" stroke="#000" stroke-width="2.86"/>
<line x1="925.56" y1="1049.00" x2="925.56" y2="1060.43" stroke="#000" stroke-width="2.86"/>
<line x1="887.52" y1="1049.00" x2="887.52" y2="1060.43" stroke="#000" stroke-width="2.86"/>
<line x1="858.01" y1="1049.00" x2="858.01" y2="1060.43" stroke="#000" stroke-width="2.86"/>
<line x1="833.90" y1="1049.00" x2="833.90" y2="1060.43" stroke="#000" stroke-width="2.86"/>
<line x1="813.51" y1="1049.00" x2="813.51" y2="1060.43" stroke="#000" stroke-width="2.86"/>
<line x1="795.85" y1="1049.00" x2="795.85" y2="1060.43" stroke="#000" stroke-width="2.86"/>
<line x1="780.28" y1="1049.00" x2="780.28" y2="1060.43" stroke="#000" stroke-width="2.86"/>
<line x1="766.35" y1="1049.00" x2="766.35" y2="1071.86" stroke="#000" stroke-width="2.86"/>
<line x1="674.68" y1="1049.00" x2="674.68" y2="1060.43" stroke="#000" stroke-width="2.86"/>
<line x1="621.06" y1="1049.00" x2="621.06" y2="1060.43" stroke="#000" stroke-width="2.86"/>
<line x1="583.02" y1="1049.00" x2="583.02" y2="1060.43" stroke="#000" stroke-width="2.86"/>
<line x1="553.51" y1="1049.00" x2="553.51" y2="1060.43" stroke="#000" stroke-width="2.86"/>
<line x1="529.40" y1="1049.00" x2="529.40" y2="1060.43" stroke="#000" stroke-width="2.86"/>
<line x1="509.01" y1="1049.00" x2="509.01" y2="1060.43" stroke="#000" stroke-width="2.86"/>
<line x1="491.35" y1="1049.00" x2="491.35" y2="1060.43" stroke="#000" stroke-width="2.86"/>
<line x1="475.78" y1="1049.00" x2="475.78" y2="1060.43" stroke="#000" stroke-width="2.86"/>
<line x1="461.85" y1="1049.00" x2="461.85" y2="1071.86" stroke="#000" stroke-width="2.86"/>
<line x1="370.18" y1="1049.00" x2="370.18" y2="1060.43" stroke="#000" stroke-width="2.86"/>
<line x1="337.00" y1="1049.00" x2="359.86" y2="1049.00" stroke="#000" stroke-width="2.86"/>
<line x1="1051.00" y1="1049.00" x2="1028.14" y2="1049.00" stroke="#000" stroke-width="2.86"/>
<line x1="337.00" y1="1185.75" x2="359.86" y2="1185.75" stroke="#000" stroke-width="2.86"/>
<line x1="1051.00" y1="1185.75" x2="1028.14" y2="1185.75" stroke="#000" stroke-width="2.86"/>
<line x1="337.00" y1="1322.50" x2="359.86" y2="1322.50" stroke="#000" stroke-width="2.86"/>
<line x1="1051.00" y1="1322.50" x2="1028.14" y2="1322.50" stroke="#000" stroke-width="2.86"/>
<line x1="337.00" y1="1459.25" x2="359.86" y2="1459.25" stroke="#000" stroke-width="2.86"/>
<line x1="1051.00" y1="1459.25" x2="1028.14" y2="1459.25" stroke="#000" stroke-width="2.86"/>
<line x1="337.00" y1="1596.00" x2="359.86" y2="1596.00" stroke="#000" stroke-width="2.86"/>
<line x1="1051.00" y1="1596.00" x2="1028.14" y2="1596.00" stroke="#000" stroke-width="2.86"/>
<rect x="337.00" y="1049.00" width="714.00" height="547.00" fill="none" stroke="#000" stroke-width="5.71"/>
<text x="204.30" y="1059.00" font-size="47.60" textLength="47.82" lengthAdjust="spacingAndGlyphs">10</text>
<text x="252.61" y="1045.70" font-size="35.80" textLength="25.94" lengthAdjust="spacingAndGlyphs">−</text>
<text x="278.55" y="1042.70" font-size="35.80">10</text>
<text x="151.57" y="1059.00" font-size="47.60">4</text>
<text x="182.49" y="1062.50" font-size="47.60">·</text>
<text x="204.30" y="1195.75" font-size="47.60" textLength="47.82" lengthAdjust="spacingAndGlyphs">10</text>
<text x="252.61" y="1182.45" font-size="35.80" textLength="25.94" lengthAdjust="spacingAndGlyphs">−</text>
<text x="278.55" y="1179.45" font-size="35.80">10</text>
<text x="150.41" y="1195.75" font-size="47.60">2</text>
<text x="182.49" y="1199.25" font-size="47.60">·</text>
<text x="279.19" y="1332.50" font-size="47.60">0.</text>
<text x="204.30" y="1469.25" font-size="47.60" textLength="47.82" lengthAdjust="spacingAndGlyphs">10</text>
<text x="252.61" y="1455.95" font-size="35.80" textLength="25.94" lengthAdjust="spacingAndGlyphs">−</text>
<text x="278.55" y="1452.95" font-size="35.80">10</text>
<text x="150.41" y="1469.25" font-size="47.60">2</text>
<text x="182.49" y="1472.75" font-size="47.60">·</text>
<text x="114.80" y="1473.25" font-size="47.60" textLength="35.15" lengthAdjust="spacingAndGlyphs">−</text>
<text x="204.30" y="1606.00" font-size="47.60" textLength="47.82" lengthAdjust="spacingAndGlyphs">10</text>
<text x="252.61" y="1592.70" font-size="35.80" textLength="25.94" lengthAdjust="spacingAndGlyphs">−</text>
<text x="278.55" y="1589.70" font-size="35.80">10</text>
<text x="151.57" y="1606.00" font-size="47.60">4</text>
<text x="182.49" y="1609.50" font-size="47.60">·</text>
<text x="114.80" y="1610.00" font-size="47.60" textLength="35.15" lengthAdjust="spacingAndGlyphs">−</text>
<text x="475.90" y="1651.30" font-size="47.60" textLength="47.82" lengthAdjust="spacingAndGlyphs">10</text>
<text x="524.41" y="1638.00" font-size="35.80" textLength="25.94" lengthAdjust="spacingAndGlyphs">−</text>
<text x="551.32" y="1635.00" font-size="35.80">5</text>
<text x="780.40" y="1651.30" font-size="47.60" textLength="47.82" lengthAdjust="spacingAndGlyphs">10</text>
<text x="828.91" y="1638.00" font-size="35.80" textLength="25.94" lengthAdjust="spacingAndGlyphs">−</text>
<text x="857.20" y="1635.00" font-size="35.80">4</text>
<text x="428.34" y="1013.40" font-size="47.60" textLength="47.82" lengthAdjust="spacingAndGlyphs">10</text>
<text x="473.63" y="997.10" font-size="35.80">3</text>
<text x="732.84" y="1013.40" font-size="47.60" textLength="47.82" lengthAdjust="spacingAndGlyphs">10</text>
<text x="778.27" y="997.10" font-size="35.80">2</text>
<text x="522.55" y="952.60" font-size="47.20" textLength="238.90" lengthAdjust="spacingAndGlyphs">Wavelength</text>
<text x="776.07" y="956.60" font-size="57.40" textLength="10.02" lengthAdjust="spacingAndGlyphs">[</text>
<text x="786.93" y="952.60" font-size="47.20" textLength="65.12" lengthAdjust="spacingAndGlyphs">km</text>
<text x="852.91" y="956.60" font-size="57.40" textLength="10.02" lengthAdjust="spacingAndGlyphs">]</text>
<text x="495.35" y="1731.60" font-size="47.20" textLength="268.89" lengthAdjust="spacingAndGlyphs">Wavenumber</text>
<text x="780.03" y="1735.60" font-size="57.40" textLength="10.17" lengthAdjust="spacingAndGlyphs">[</text>
<text x="790.70" y="1731.60" font-size="47.20" textLength="40.93" lengthAdjust="spacingAndGlyphs">m</text>
<text x="831.56" y="1717.50" font-size="35.80" textLength="26.54" lengthAdjust="spacingAndGlyphs">−</text>
<text x="857.58" y="1714.20" font-size="35.80" textLength="17.75" lengthAdjust="spacingAndGlyphs">1</text>
<text x="880.00" y="1735.60" font-size="57.40" textLength="10.17" lengthAdjust="spacingAndGlyphs">]</text>
<g transform="translate(73.00,1445.40) rotate(-90)">
<text x="-1.41" y="0.00" font-size="47.20" textLength="89.71" lengthAdjust="spacingAndGlyphs">Flux</text>
<text x="103.40" y="4.00" font-size="57.40" textLength="9.87" lengthAdjust="spacingAndGlyphs">[</text>
<text x="114.00" y="0.00" font-size="47.20" textLength="40.72" lengthAdjust="spacingAndGlyphs">m</text>
<text x="164.46" y="0.00" font-size="47.20" textLength="20.33" lengthAdjust="spacingAndGlyphs">s</text>
<text x="185.68" y="-13.00" font-size="35.80" textLength="26.30" lengthAdjust="spacingAndGlyphs">−</text>
<text x="211.59" y="-15.00" font-size="35.80" textLength="18.88" lengthAdjust="spacingAndGlyphs">3</text>
<text x="234.03" y="4.00" font-size="57.40" textLength="9.87" lengthAdjust="spacingAndGlyphs">]</text>
</g>
<text x="781.99" y="1574.50" font-size="60.30" textLength="233.80" lengthAdjust="spacingAndGlyphs">Kuroshio</text>
<clipPath id="clip11"><rect x="1396.00" y="1049.00" width="714.00" height="547.00"/></clipPath>
<line x1="1396.00" y1="1322.50" x2="2110.00" y2="1322.50" stroke="#000" stroke-width="2.86" clip-path="url(#clip11)"/>
<path d="M1396.00,1322.10 L1790.00,1322.10" fill="none" stroke="#0000ff" stroke-width="5.71" stroke-linejoin="round" clip-path="url(#clip11)"/>
<path d="M1396.00,1321.60 L1790.00,1321.60" fill="none" stroke="#0000ff" stroke-width="5.71" stroke-linejoin="round" stroke-dasharray="5.71 17.14" clip-path="url(#clip11)"/>
<path d="M1396.00,1324.70 L1529.30,1323.50 L1552.50,1325.20 L1589.60,1327.50 L1610.50,1331.00 L1640.70,1334.50 L1654.60,1338.60 L1665.10,1339.60 L1680.20,1336.80 L1698.70,1332.80 L1719.60,1327.50 L1738.20,1322.80 L1761.40,1320.50 L1789.60,1320.60 L1823.40,1322.30 L1886.80,1322.30 L1907.90,1320.60 L1966.00,1321.20" fill="none" stroke="#ff0000" stroke-width="5.71" stroke-linejoin="round" clip-path="url(#clip11)"/>
<path d="M1396.00,1249.70 C1408.08,1249.82 1452.60,1250.08 1468.50,1250.40 C1476.14,1250.55 1483.78,1251.25 1491.40,1251.60 C1499.00,1251.95 1506.65,1252.23 1514.20,1252.50 C1521.70,1252.76 1529.22,1252.59 1536.70,1253.20 C1544.25,1253.82 1551.95,1255.15 1559.50,1256.20 C1567.01,1257.24 1574.65,1257.87 1582.00,1259.50 C1589.34,1261.13 1596.72,1263.10 1603.60,1266.00 C1610.48,1268.90 1616.47,1273.88 1623.30,1276.90 C1630.13,1279.92 1638.30,1280.58 1644.60,1284.10 C1650.88,1287.61 1655.23,1293.84 1661.10,1298.00 C1667.22,1302.33 1674.45,1306.73 1681.30,1310.10 C1688.01,1313.40 1695.42,1315.50 1702.20,1318.20 C1708.83,1320.84 1715.17,1324.27 1722.00,1326.30 C1729.17,1328.43 1737.47,1329.63 1745.20,1331.00 C1752.90,1332.36 1760.58,1334.20 1768.40,1334.50 C1783.62,1335.08 1821.35,1334.70 1836.50,1334.50 C1844.11,1334.40 1851.73,1333.93 1859.30,1333.30 C1866.86,1332.67 1875.12,1331.92 1881.90,1330.70 C1888.04,1329.60 1893.87,1327.16 1900.00,1326.00 C1906.35,1324.80 1913.29,1323.86 1920.00,1323.50 C1931.00,1322.92 1958.33,1322.67 1966.00,1322.50" fill="none" stroke="#ff0000" stroke-width="5.71" stroke-linejoin="round" stroke-dasharray="5.71 17.14" stroke-dashoffset="22.42" clip-path="url(#clip11)"/>
<path d="M1396.00,1320.50 L1459.60,1321.70 L1538.60,1325.20 L1566.40,1332.10 L1589.60,1334.90 L1605.90,1342.60 L1624.50,1349.50 L1638.40,1353.00 L1653.50,1361.80 L1668.60,1365.10 L1683.60,1363.50 L1696.40,1355.30 L1704.50,1353.00 L1715.00,1347.20 L1727.70,1344.90 L1738.20,1339.10 L1752.10,1332.10 L1766.00,1331.00 L1772.70,1327.50 L1787.50,1325.40 L1817.10,1323.30 L1865.70,1325.00 L1922.70,1326.10 L1971.30,1325.00 L2034.70,1323.30 L2049.50,1320.20 L2110.00,1321.80" fill="none" stroke="#008000" stroke-width="5.71" stroke-linejoin="round" clip-path="url(#clip11)"/>
<path d="M1396.00,1125.50 C1400.22,1125.50 1413.28,1125.42 1421.30,1125.50 C1428.90,1125.58 1436.55,1125.88 1444.10,1126.00 C1451.60,1126.12 1459.11,1125.82 1466.60,1126.20 C1474.15,1126.58 1481.80,1127.63 1489.40,1128.30 C1497.02,1128.97 1504.68,1129.42 1512.30,1130.20 C1519.92,1130.98 1527.93,1131.15 1535.10,1133.00 C1542.15,1134.82 1548.56,1138.54 1555.30,1141.30 C1562.18,1144.12 1569.78,1146.72 1576.40,1149.90 C1582.82,1152.99 1589.74,1155.60 1595.00,1160.40 C1600.30,1165.23 1603.57,1172.92 1608.20,1178.90 C1612.83,1184.88 1617.47,1191.07 1622.80,1196.30 C1628.11,1201.51 1635.98,1204.30 1640.20,1210.30 C1644.42,1216.30 1645.03,1225.35 1648.10,1232.30 C1651.10,1239.11 1654.71,1245.66 1658.60,1252.00 C1662.52,1258.38 1666.97,1264.67 1671.60,1270.60 C1676.22,1276.52 1681.35,1282.04 1686.40,1287.60 C1691.50,1293.22 1697.13,1298.62 1702.20,1304.30 C1707.24,1309.95 1711.27,1316.87 1716.80,1321.70 C1722.30,1326.51 1728.89,1329.97 1735.40,1333.30 C1741.98,1336.67 1749.06,1339.81 1756.30,1341.90 C1763.57,1344.00 1771.42,1345.12 1779.00,1345.90 C1786.56,1346.68 1794.20,1346.52 1801.80,1346.60 C1813.18,1346.72 1835.95,1346.68 1847.30,1346.60 C1854.83,1346.54 1862.37,1346.28 1869.90,1346.10 C1877.47,1345.92 1885.10,1345.70 1892.70,1345.50 C1900.33,1345.30 1908.05,1345.15 1915.70,1344.90 C1923.34,1344.65 1930.98,1344.25 1938.60,1344.00 C1946.20,1343.75 1953.83,1343.85 1961.40,1343.40 C1968.95,1342.95 1976.53,1342.18 1984.00,1341.30 C1991.42,1340.42 1998.84,1339.41 2006.20,1338.10 C2013.67,1336.77 2021.58,1335.52 2028.80,1333.30 C2035.93,1331.11 2042.63,1326.60 2049.50,1324.80 C2056.15,1323.06 2063.13,1322.76 2070.00,1322.50 C2080.08,1322.12 2103.33,1322.50 2110.00,1322.50" fill="none" stroke="#008000" stroke-width="5.71" stroke-linejoin="round" stroke-dasharray="5.71 17.14" stroke-dashoffset="22.42" clip-path="url(#clip11)"/>
<line x1="1532.20" y1="1049.00" x2="1532.20" y2="1596.00" stroke="#0000ff" stroke-width="2.86"/>
<line x1="1665.40" y1="1049.00" x2="1665.40" y2="1596.00" stroke="#ff0000" stroke-width="2.86"/>
<line x1="1679.70" y1="1049.00" x2="1679.70" y2="1596.00" stroke="#008000" stroke-width="2.86"/>
<line x1="1923.30" y1="1049.00" x2="1923.30" y2="1596.00" stroke="#000" stroke-width="2.86"/>
<line x1="1423.08" y1="1596.00" x2="1423.08" y2="1584.57" stroke="#000" stroke-width="2.86"/>
<line x1="1461.13" y1="1596.00" x2="1461.13" y2="1584.57" stroke="#000" stroke-width="2.86"/>
<line x1="1490.64" y1="1596.00" x2="1490.64" y2="1584.57" stroke="#000" stroke-width="2.86"/>
<line x1="1514.75" y1="1596.00" x2="1514.75" y2="1584.57" stroke="#000" stroke-width="2.86"/>
<line x1="1535.13" y1="1596.00" x2="1535.13" y2="1584.57" stroke="#000" stroke-width="2.86"/>
<line x1="1552.79" y1="1596.00" x2="1552.79" y2="1584.57" stroke="#000" stroke-width="2.86"/>
<line x1="1568.37" y1="1596.00" x2="1568.37" y2="1584.57" stroke="#000" stroke-width="2.86"/>
<line x1="1582.30" y1="1596.00" x2="1582.30" y2="1573.14" stroke="#000" stroke-width="2.86"/>
<line x1="1673.96" y1="1596.00" x2="1673.96" y2="1584.57" stroke="#000" stroke-width="2.86"/>
<line x1="1727.58" y1="1596.00" x2="1727.58" y2="1584.57" stroke="#000" stroke-width="2.86"/>
<line x1="1765.63" y1="1596.00" x2="1765.63" y2="1584.57" stroke="#000" stroke-width="2.86"/>
<line x1="1795.14" y1="1596.00" x2="1795.14" y2="1584.57" stroke="#000" stroke-width="2.86"/>
<line x1="1819.25" y1="1596.00" x2="1819.25" y2="1584.57" stroke="#000" stroke-width="2.86"/>
<line x1="1839.63" y1="1596.00" x2="1839.63" y2="1584.57" stroke="#000" stroke-width="2.86"/>
<line x1="1857.29" y1="1596.00" x2="1857.29" y2="1584.57" stroke="#000" stroke-width="2.86"/>
<line x1="1872.87" y1="1596.00" x2="1872.87" y2="1584.57" stroke="#000" stroke-width="2.86"/>
<line x1="1886.80" y1="1596.00" x2="1886.80" y2="1573.14" stroke="#000" stroke-width="2.86"/>
<line x1="1978.46" y1="1596.00" x2="1978.46" y2="1584.57" stroke="#000" stroke-width="2.86"/>
<line x1="2032.08" y1="1596.00" x2="2032.08" y2="1584.57" stroke="#000" stroke-width="2.86"/>
<line x1="2070.13" y1="1596.00" x2="2070.13" y2="1584.57" stroke="#000" stroke-width="2.86"/>
<line x1="2099.64" y1="1596.00" x2="2099.64" y2="1584.57" stroke="#000" stroke-width="2.86"/>
<line x1="2038.18" y1="1049.00" x2="2038.18" y2="1060.43" stroke="#000" stroke-width="2.86"/>
<line x1="1984.56" y1="1049.00" x2="1984.56" y2="1060.43" stroke="#000" stroke-width="2.86"/>
<line x1="1946.52" y1="1049.00" x2="1946.52" y2="1060.43" stroke="#000" stroke-width="2.86"/>
<line x1="1917.01" y1="1049.00" x2="1917.01" y2="1060.43" stroke="#000" stroke-width="2.86"/>
<line x1="1892.90" y1="1049.00" x2="1892.90" y2="1060.43" stroke="#000" stroke-width="2.86"/>
<line x1="1872.51" y1="1049.00" x2="1872.51" y2="1060.43" stroke="#000" stroke-width="2.86"/>
<line x1="1854.85" y1="1049.00" x2="1854.85" y2="1060.43" stroke="#000" stroke-width="2.86"/>
<line x1="1839.28" y1="1049.00" x2="1839.28" y2="1060.43" stroke="#000" stroke-width="2.86"/>
<line x1="1825.35" y1="1049.00" x2="1825.35" y2="1071.86" stroke="#000" stroke-width="2.86"/>
<line x1="1733.68" y1="1049.00" x2="1733.68" y2="1060.43" stroke="#000" stroke-width="2.86"/>
<line x1="1680.06" y1="1049.00" x2="1680.06" y2="1060.43" stroke="#000" stroke-width="2.86"/>
<line x1="1642.02" y1="1049.00" x2="1642.02" y2="1060.43" stroke="#000" stroke-width="2.86"/>
<line x1="1612.51" y1="1049.00" x2="1612.51" y2="1060.43" stroke="#000" stroke-width="2.86"/>
<line x1="1588.40" y1="1049.00" x2="1588.40" y2="1060.43" stroke="#000" stroke-width="2.86"/>
<line x1="1568.01" y1="1049.00" x2="1568.01" y2="1060.43" stroke="#000" stroke-width="2.86"/>
<line x1="1550.35" y1="1049.00" x2="1550.35" y2="1060.43" stroke="#000" stroke-width="2.86"/>
<line x1="1534.78" y1="1049.00" x2="1534.78" y2="1060.43" stroke="#000" stroke-width="2.86"/>
<line x1="1520.85" y1="1049.00" x2="1520.85" y2="1071.86" stroke="#000" stroke-width="2.86"/>
<line x1="1429.18" y1="1049.00" x2="1429.18" y2="1060.43" stroke="#000" stroke-width="2.86"/>
<line x1="1396.00" y1="1049.00" x2="1418.86" y2="1049.00" stroke="#000" stroke-width="2.86"/>
<line x1="2110.00" y1="1049.00" x2="2087.14" y2="1049.00" stroke="#000" stroke-width="2.86"/>
<line x1="1396.00" y1="1185.75" x2="1418.86" y2="1185.75" stroke="#000" stroke-width="2.86"/>
<line x1="2110.00" y1="1185.75" x2="2087.14" y2="1185.75" stroke="#000" stroke-width="2.86"/>
<line x1="1396.00" y1="1322.50" x2="1418.86" y2="1322.50" stroke="#000" stroke-width="2.86"/>
<line x1="2110.00" y1="1322.50" x2="2087.14" y2="1322.50" stroke="#000" stroke-width="2.86"/>
<line x1="1396.00" y1="1459.25" x2="1418.86" y2="1459.25" stroke="#000" stroke-width="2.86"/>
<line x1="2110.00" y1="1459.25" x2="2087.14" y2="1459.25" stroke="#000" stroke-width="2.86"/>
<line x1="1396.00" y1="1596.00" x2="1418.86" y2="1596.00" stroke="#000" stroke-width="2.86"/>
<line x1="2110.00" y1="1596.00" x2="2087.14" y2="1596.00" stroke="#000" stroke-width="2.86"/>
<rect x="1396.00" y="1049.00" width="714.00" height="547.00" fill="none" stroke="#000" stroke-width="5.71"/>
<text x="1263.30" y="1059.00" font-size="47.60" textLength="47.82" lengthAdjust="spacingAndGlyphs">10</text>
<text x="1311.61" y="1045.70" font-size="35.80" textLength="25.94" lengthAdjust="spacingAndGlyphs">−</text>
<text x="1337.55" y="1042.70" font-size="35.80">10</text>
<text x="1263.30" y="1195.75" font-size="47.60" textLength="47.82" lengthAdjust="spacingAndGlyphs">10</text>
<text x="1311.61" y="1182.45" font-size="35.80" textLength="25.94" lengthAdjust="spacingAndGlyphs">−</text>
<text x="1337.55" y="1179.45" font-size="35.80">11</text>
<text x="1208.73" y="1195.75" font-size="47.60">5</text>
<text x="1241.49" y="1199.25" font-size="47.60">·</text>
<text x="1338.19" y="1332.50" font-size="47.60">0.</text>
<text x="1263.30" y="1469.25" font-size="47.60" textLength="47.82" lengthAdjust="spacingAndGlyphs">10</text>
<text x="1311.61" y="1455.95" font-size="35.80" textLength="25.94" lengthAdjust="spacingAndGlyphs">−</text>
<text x="1337.55" y="1452.95" font-size="35.80">11</text>
<text x="1208.73" y="1469.25" font-size="47.60">5</text>
<text x="1241.49" y="1472.75" font-size="47.60">·</text>
<text x="1173.80" y="1473.25" font-size="47.60" textLength="35.15" lengthAdjust="spacingAndGlyphs">−</text>
<text x="1263.30" y="1606.00" font-size="47.60" textLength="47.82" lengthAdjust="spacingAndGlyphs">10</text>
<text x="1311.61" y="1592.70" font-size="35.80" textLength="25.94" lengthAdjust="spacingAndGlyphs">−</text>
<text x="1337.55" y="1589.70" font-size="35.80">10</text>
<text x="1229.24" y="1610.00" font-size="47.60" textLength="34.66" lengthAdjust="spacingAndGlyphs">−</text>
<text x="1534.90" y="1651.30" font-size="47.60" textLength="47.82" lengthAdjust="spacingAndGlyphs">10</text>
<text x="1583.41" y="1638.00" font-size="35.80" textLength="25.94" lengthAdjust="spacingAndGlyphs">−</text>
<text x="1610.32" y="1635.00" font-size="35.80">5</text>
<text x="1839.40" y="1651.30" font-size="47.60" textLength="47.82" lengthAdjust="spacingAndGlyphs">10</text>
<text x="1887.91" y="1638.00" font-size="35.80" textLength="25.94" lengthAdjust="spacingAndGlyphs">−</text>
<text x="1916.20" y="1635.00" font-size="35.80">4</text>
<text x="1487.34" y="1013.40" font-size="47.60" textLength="47.82" lengthAdjust="spacingAndGlyphs">10</text>
<text x="1532.63" y="997.10" font-size="35.80">3</text>
<text x="1791.84" y="1013.40" font-size="47.60" textLength="47.82" lengthAdjust="spacingAndGlyphs">10</text>
<text x="1837.27" y="997.10" font-size="35.80">2</text>
<text x="1581.55" y="952.60" font-size="47.20" textLength="238.90" lengthAdjust="spacingAndGlyphs">Wavelength</text>
<text x="1835.07" y="956.60" font-size="57.40" textLength="10.02" lengthAdjust="spacingAndGlyphs">[</text>
<text x="1845.93" y="952.60" font-size="47.20" textLength="65.12" lengthAdjust="spacingAndGlyphs">km</text>
<text x="1911.91" y="956.60" font-size="57.40" textLength="10.02" lengthAdjust="spacingAndGlyphs">]</text>
<text x="1554.35" y="1731.60" font-size="47.20" textLength="268.89" lengthAdjust="spacingAndGlyphs">Wavenumber</text>
<text x="1839.03" y="1735.60" font-size="57.40" textLength="10.17" lengthAdjust="spacingAndGlyphs">[</text>
<text x="1849.70" y="1731.60" font-size="47.20" textLength="40.93" lengthAdjust="spacingAndGlyphs">m</text>
<text x="1890.56" y="1717.50" font-size="35.80" textLength="26.54" lengthAdjust="spacingAndGlyphs">−</text>
<text x="1916.58" y="1714.20" font-size="35.80" textLength="17.75" lengthAdjust="spacingAndGlyphs">1</text>
<text x="1939.00" y="1735.60" font-size="57.40" textLength="10.17" lengthAdjust="spacingAndGlyphs">]</text>
<g transform="translate(1132.00,1445.40) rotate(-90)">
<text x="-1.41" y="0.00" font-size="47.20" textLength="89.71" lengthAdjust="spacingAndGlyphs">Flux</text>
<text x="103.40" y="4.00" font-size="57.40" textLength="9.87" lengthAdjust="spacingAndGlyphs">[</text>
<text x="114.00" y="0.00" font-size="47.20" textLength="40.72" lengthAdjust="spacingAndGlyphs">m</text>
<text x="164.46" y="0.00" font-size="47.20" textLength="20.33" lengthAdjust="spacingAndGlyphs">s</text>
<text x="185.68" y="-13.00" font-size="35.80" textLength="26.30" lengthAdjust="spacingAndGlyphs">−</text>
<text x="211.59" y="-15.00" font-size="35.80" textLength="18.88" lengthAdjust="spacingAndGlyphs">3</text>
<text x="234.03" y="4.00" font-size="57.40" textLength="9.87" lengthAdjust="spacingAndGlyphs">]</text>
</g>
<text x="1840.99" y="1574.50" font-size="60.30" textLength="233.80" lengthAdjust="spacingAndGlyphs">Kuroshio</text>
<clipPath id="clip20"><rect x="337.00" y="1924.20" width="714.00" height="546.80"/></clipPath>
<line x1="337.00" y1="2197.60" x2="1051.00" y2="2197.60" stroke="#000" stroke-width="2.86" clip-path="url(#clip20)"/>
<path d="M347.10,2197.50 L685.00,2197.50" fill="none" stroke="#0000ff" stroke-width="5.71" stroke-linejoin="round" stroke-dasharray="34.29 34.29" stroke-dashoffset="0.00" clip-path="url(#clip20)"/>
<path d="M337.00,2282.30 L371.90,2286.30 L390.00,2288.50 L407.10,2290.00 L422.50,2291.60 L440.10,2292.20 L457.00,2294.00 L474.70,2296.20 L497.40,2301.10 L506.90,2304.80 L524.00,2308.50 L541.00,2311.00 L554.70,2310.30 L573.40,2306.60 L587.00,2295.00 L600.50,2283.40 L623.00,2260.30 L636.00,2248.00 L649.40,2235.60 L660.00,2229.50 L668.30,2221.90 L677.10,2217.60 L694.00,2211.50 L710.50,2206.20 L743.30,2202.10 L761.00,2200.50 L778.60,2198.60 L791.00,2195.50 L811.70,2195.70 L829.00,2196.00 L846.40,2196.20 L879.00,2198.10" fill="none" stroke="#ff0000" stroke-width="5.71" stroke-linejoin="round" stroke-dasharray="34.29 34.29" stroke-dashoffset="66.63" clip-path="url(#clip20)"/>
<path d="M337.00,2363.80 L369.60,2371.50 L387.00,2376.00 L403.80,2380.80 L435.70,2390.70 L452.00,2396.00 L468.80,2401.70 L495.20,2411.20 L498.50,2414.50 L511.00,2427.00 L524.90,2439.80 L550.30,2449.70 L555.80,2449.70 L570.00,2441.00 L584.40,2431.00 L589.90,2425.50 L603.10,2404.60 L612.00,2389.00 L621.20,2373.70 L636.60,2345.10 L645.00,2330.00 L653.80,2314.30 L667.00,2285.60 L680.00,2271.00 L692.90,2258.60 L710.00,2243.80 L720.00,2239.50 L737.00,2234.00 L753.30,2229.50 L769.50,2226.40 L786.20,2225.20 L804.00,2224.00 L821.40,2222.90 L854.80,2220.00 L872.00,2218.00 L889.30,2215.70 L905.20,2212.40 L921.90,2207.40 L937.00,2201.00 L952.90,2194.50 L986.70,2195.50 L1003.00,2195.50 L1020.70,2195.50 L1051.00,2197.60" fill="none" stroke="#008000" stroke-width="5.71" stroke-linejoin="round" stroke-dasharray="34.29 34.29" stroke-dashoffset="68.22" clip-path="url(#clip20)"/>
<line x1="393.40" y1="1924.20" x2="393.40" y2="2471.00" stroke="#0000ff" stroke-width="2.86"/>
<line x1="553.10" y1="1924.20" x2="553.10" y2="2471.00" stroke="#ff0000" stroke-width="2.86"/>
<line x1="574.50" y1="1924.20" x2="574.50" y2="2471.00" stroke="#008000" stroke-width="2.86"/>
<line x1="935.70" y1="1924.20" x2="935.70" y2="2471.00" stroke="#000" stroke-width="2.86"/>
<line x1="354.23" y1="2471.00" x2="354.23" y2="2459.57" stroke="#000" stroke-width="2.86"/>
<line x1="376.64" y1="2471.00" x2="376.64" y2="2459.57" stroke="#000" stroke-width="2.86"/>
<line x1="396.05" y1="2471.00" x2="396.05" y2="2459.57" stroke="#000" stroke-width="2.86"/>
<line x1="413.18" y1="2471.00" x2="413.18" y2="2459.57" stroke="#000" stroke-width="2.86"/>
<line x1="428.50" y1="2471.00" x2="428.50" y2="2448.14" stroke="#000" stroke-width="2.86"/>
<line x1="529.28" y1="2471.00" x2="529.28" y2="2459.57" stroke="#000" stroke-width="2.86"/>
<line x1="588.24" y1="2471.00" x2="588.24" y2="2459.57" stroke="#000" stroke-width="2.86"/>
<line x1="630.07" y1="2471.00" x2="630.07" y2="2459.57" stroke="#000" stroke-width="2.86"/>
<line x1="662.52" y1="2471.00" x2="662.52" y2="2459.57" stroke="#000" stroke-width="2.86"/>
<line x1="689.03" y1="2471.00" x2="689.03" y2="2459.57" stroke="#000" stroke-width="2.86"/>
<line x1="711.44" y1="2471.00" x2="711.44" y2="2459.57" stroke="#000" stroke-width="2.86"/>
<line x1="730.85" y1="2471.00" x2="730.85" y2="2459.57" stroke="#000" stroke-width="2.86"/>
<line x1="747.98" y1="2471.00" x2="747.98" y2="2459.57" stroke="#000" stroke-width="2.86"/>
<line x1="763.30" y1="2471.00" x2="763.30" y2="2448.14" stroke="#000" stroke-width="2.86"/>
<line x1="864.08" y1="2471.00" x2="864.08" y2="2459.57" stroke="#000" stroke-width="2.86"/>
<line x1="923.04" y1="2471.00" x2="923.04" y2="2459.57" stroke="#000" stroke-width="2.86"/>
<line x1="964.87" y1="2471.00" x2="964.87" y2="2459.57" stroke="#000" stroke-width="2.86"/>
<line x1="997.32" y1="2471.00" x2="997.32" y2="2459.57" stroke="#000" stroke-width="2.86"/>
<line x1="1023.83" y1="2471.00" x2="1023.83" y2="2459.57" stroke="#000" stroke-width="2.86"/>
<line x1="1046.24" y1="2471.00" x2="1046.24" y2="2459.57" stroke="#000" stroke-width="2.86"/>
<line x1="1045.85" y1="1924.20" x2="1045.85" y2="1935.63" stroke="#000" stroke-width="2.86"/>
<line x1="1030.53" y1="1924.20" x2="1030.53" y2="1947.06" stroke="#000" stroke-width="2.86"/>
<line x1="929.75" y1="1924.20" x2="929.75" y2="1935.63" stroke="#000" stroke-width="2.86"/>
<line x1="870.79" y1="1924.20" x2="870.79" y2="1935.63" stroke="#000" stroke-width="2.86"/>
<line x1="828.96" y1="1924.20" x2="828.96" y2="1935.63" stroke="#000" stroke-width="2.86"/>
<line x1="796.52" y1="1924.20" x2="796.52" y2="1935.63" stroke="#000" stroke-width="2.86"/>
<line x1="770.01" y1="1924.20" x2="770.01" y2="1935.63" stroke="#000" stroke-width="2.86"/>
<line x1="747.59" y1="1924.20" x2="747.59" y2="1935.63" stroke="#000" stroke-width="2.86"/>
<line x1="728.18" y1="1924.20" x2="728.18" y2="1935.63" stroke="#000" stroke-width="2.86"/>
<line x1="711.05" y1="1924.20" x2="711.05" y2="1935.63" stroke="#000" stroke-width="2.86"/>
<line x1="695.73" y1="1924.20" x2="695.73" y2="1947.06" stroke="#000" stroke-width="2.86"/>
<line x1="594.95" y1="1924.20" x2="594.95" y2="1935.63" stroke="#000" stroke-width="2.86"/>
<line x1="535.99" y1="1924.20" x2="535.99" y2="1935.63" stroke="#000" stroke-width="2.86"/>
<line x1="494.16" y1="1924.20" x2="494.16" y2="1935.63" stroke="#000" stroke-width="2.86"/>
<line x1="461.72" y1="1924.20" x2="461.72" y2="1935.63" stroke="#000" stroke-width="2.86"/>
<line x1="435.21" y1="1924.20" x2="435.21" y2="1935.63" stroke="#000" stroke-width="2.86"/>
<line x1="412.79" y1="1924.20" x2="412.79" y2="1935.63" stroke="#000" stroke-width="2.86"/>
<line x1="393.38" y1="1924.20" x2="393.38" y2="1935.63" stroke="#000" stroke-width="2.86"/>
<line x1="376.25" y1="1924.20" x2="376.25" y2="1935.63" stroke="#000" stroke-width="2.86"/>
<line x1="360.93" y1="1924.20" x2="360.93" y2="1947.06" stroke="#000" stroke-width="2.86"/>
<line x1="337.00" y1="1924.20" x2="359.86" y2="1924.20" stroke="#000" stroke-width="2.86"/>
<line x1="1051.00" y1="1924.20" x2="1028.14" y2="1924.20" stroke="#000" stroke-width="2.86"/>
<line x1="337.00" y1="2060.90" x2="359.86" y2="2060.90" stroke="#000" stroke-width="2.86"/>
<line x1="1051.00" y1="2060.90" x2="1028.14" y2="2060.90" stroke="#000" stroke-width="2.86"/>
<line x1="337.00" y1="2197.60" x2="359.86" y2="2197.60" stroke="#000" stroke-width="2.86"/>
<line x1="1051.00" y1="2197.60" x2="1028.14" y2="2197.60" stroke="#000" stroke-width="2.86"/>
<line x1="337.00" y1="2334.30" x2="359.86" y2="2334.30" stroke="#000" stroke-width="2.86"/>
<line x1="1051.00" y1="2334.30" x2="1028.14" y2="2334.30" stroke="#000" stroke-width="2.86"/>
<line x1="337.00" y1="2471.00" x2="359.86" y2="2471.00" stroke="#000" stroke-width="2.86"/>
<line x1="1051.00" y1="2471.00" x2="1028.14" y2="2471.00" stroke="#000" stroke-width="2.86"/>
<rect x="337.00" y="1924.20" width="714.00" height="546.80" fill="none" stroke="#000" stroke-width="5.71"/>
<text x="204.30" y="1934.20" font-size="47.60" textLength="47.82" lengthAdjust="spacingAndGlyphs">10</text>
<text x="252.61" y="1920.90" font-size="35.80" textLength="25.94" lengthAdjust="spacingAndGlyphs">−</text>
<text x="278.55" y="1917.90" font-size="35.80">10</text>
<text x="151.57" y="1934.20" font-size="47.60">4</text>
<text x="182.49" y="1937.70" font-size="47.60">·</text>
<text x="204.30" y="2070.90" font-size="47.60" textLength="47.82" lengthAdjust="spacingAndGlyphs">10</text>
<text x="252.61" y="2057.60" font-size="35.80" textLength="25.94" lengthAdjust="spacingAndGlyphs">−</text>
<text x="278.55" y="2054.60" font-size="35.80">10</text>
<text x="150.41" y="2070.90" font-size="47.60">2</text>
<text x="182.49" y="2074.40" font-size="47.60">·</text>
<text x="279.19" y="2207.60" font-size="47.60">0.</text>
<text x="204.30" y="2344.30" font-size="47.60" textLength="47.82" lengthAdjust="spacingAndGlyphs">10</text>
<text x="252.61" y="2331.00" font-size="35.80" textLength="25.94" lengthAdjust="spacingAndGlyphs">−</text>
<text x="278.55" y="2328.00" font-size="35.80">10</text>
<text x="150.41" y="2344.30" font-size="47.60">2</text>
<text x="182.49" y="2347.80" font-size="47.60">·</text>
<text x="114.80" y="2348.30" font-size="47.60" textLength="35.15" lengthAdjust="spacingAndGlyphs">−</text>
<text x="204.30" y="2481.00" font-size="47.60" textLength="47.82" lengthAdjust="spacingAndGlyphs">10</text>
<text x="252.61" y="2467.70" font-size="35.80" textLength="25.94" lengthAdjust="spacingAndGlyphs">−</text>
<text x="278.55" y="2464.70" font-size="35.80">10</text>
<text x="151.57" y="2481.00" font-size="47.60">4</text>
<text x="182.49" y="2484.50" font-size="47.60">·</text>
<text x="114.80" y="2485.00" font-size="47.60" textLength="35.15" lengthAdjust="spacingAndGlyphs">−</text>
<text x="381.10" y="2526.30" font-size="47.60" textLength="47.82" lengthAdjust="spacingAndGlyphs">10</text>
<text x="429.61" y="2513.00" font-size="35.80" textLength="25.94" lengthAdjust="spacingAndGlyphs">−</text>
<text x="456.52" y="2510.00" font-size="35.80">5</text>
<text x="715.90" y="2526.30" font-size="47.60" textLength="47.82" lengthAdjust="spacingAndGlyphs">10</text>
<text x="764.41" y="2513.00" font-size="35.80" textLength="25.94" lengthAdjust="spacingAndGlyphs">−</text>
<text x="792.70" y="2510.00" font-size="35.80">4</text>
<text x="327.43" y="1888.60" font-size="47.60" textLength="47.82" lengthAdjust="spacingAndGlyphs">10</text>
<text x="372.72" y="1872.30" font-size="35.80">3</text>
<text x="662.23" y="1888.60" font-size="47.60" textLength="47.82" lengthAdjust="spacingAndGlyphs">10</text>
<text x="707.66" y="1872.30" font-size="35.80">2</text>
<text x="997.03" y="1888.60" font-size="47.60" textLength="47.82" lengthAdjust="spacingAndGlyphs">10</text>
<text x="1044.38" y="1872.30" font-size="35.80">1</text>
<text x="522.55" y="1827.80" font-size="47.20" textLength="238.90" lengthAdjust="spacingAndGlyphs">Wavelength</text>
<text x="776.07" y="1831.80" font-size="57.40" textLength="10.02" lengthAdjust="spacingAndGlyphs">[</text>
<text x="786.93" y="1827.80" font-size="47.20" textLength="65.12" lengthAdjust="spacingAndGlyphs">km</text>
<text x="852.91" y="1831.80" font-size="57.40" textLength="10.02" lengthAdjust="spacingAndGlyphs">]</text>
<text x="495.35" y="2606.60" font-size="47.20" textLength="268.89" lengthAdjust="spacingAndGlyphs">Wavenumber</text>
<text x="780.03" y="2610.60" font-size="57.40" textLength="10.17" lengthAdjust="spacingAndGlyphs">[</text>
<text x="790.70" y="2606.60" font-size="47.20" textLength="40.93" lengthAdjust="spacingAndGlyphs">m</text>
<text x="831.56" y="2592.50" font-size="35.80" textLength="26.54" lengthAdjust="spacingAndGlyphs">−</text>
<text x="857.58" y="2589.20" font-size="35.80" textLength="17.75" lengthAdjust="spacingAndGlyphs">1</text>
<text x="880.00" y="2610.60" font-size="57.40" textLength="10.17" lengthAdjust="spacingAndGlyphs">]</text>
<g transform="translate(73.00,2320.50) rotate(-90)">
<text x="-1.41" y="0.00" font-size="47.20" textLength="89.71" lengthAdjust="spacingAndGlyphs">Flux</text>
<text x="103.40" y="4.00" font-size="57.40" textLength="9.87" lengthAdjust="spacingAndGlyphs">[</text>
<text x="114.00" y="0.00" font-size="47.20" textLength="40.72" lengthAdjust="spacingAndGlyphs">m</text>
<text x="164.46" y="0.00" font-size="47.20" textLength="20.33" lengthAdjust="spacingAndGlyphs">s</text>
<text x="185.68" y="-13.00" font-size="35.80" textLength="26.30" lengthAdjust="spacingAndGlyphs">−</text>
<text x="211.59" y="-15.00" font-size="35.80" textLength="18.88" lengthAdjust="spacingAndGlyphs">3</text>
<text x="234.03" y="4.00" font-size="57.40" textLength="9.87" lengthAdjust="spacingAndGlyphs">]</text>
</g>
<text x="891.20" y="2449.50" font-size="60.30" textLength="125.57" lengthAdjust="spacingAndGlyphs">ACC</text>
<clipPath id="clip21"><rect x="1396.00" y="1924.20" width="714.00" height="546.80"/></clipPath>
<line x1="1396.00" y1="2197.60" x2="2110.00" y2="2197.60" stroke="#000" stroke-width="2.86" clip-path="url(#clip21)"/>
<path d="M1396.00,2197.90 L1747.00,2197.90" fill="none" stroke="#0000ff" stroke-width="5.71" stroke-linejoin="round" clip-path="url(#clip21)"/>
<path d="M1396.00,2196.60 L1747.00,2196.60" fill="none" stroke="#0000ff" stroke-width="5.71" stroke-linejoin="round" stroke-dasharray="5.71 17.14" stroke-dashoffset="13.16" clip-path="url(#clip21)"/>
<path d="M1396.00,2187.30 L1398.80,2187.90 L1449.50,2200.20 L1478.10,2206.80 L1520.00,2218.30 L1555.20,2241.40 L1586.00,2261.20 L1611.40,2267.20 L1632.30,2265.60 L1649.90,2255.70 L1665.30,2237.00 L1692.90,2212.80 L1707.20,2205.10 L1727.00,2198.50 L1744.60,2196.30 L1773.50,2193.60 L1851.60,2191.40 L1914.10,2193.60 L1936.40,2196.30 L1950.00,2197.00" fill="none" stroke="#ff0000" stroke-width="5.71" stroke-linejoin="round" clip-path="url(#clip21)"/>
<path d="M1558.00,1895.00 C1560.40,1901.08 1567.98,1922.18 1572.40,1931.50 C1575.66,1938.39 1580.85,1944.21 1584.50,1950.90 C1588.17,1957.62 1591.20,1964.87 1594.40,1971.80 C1597.57,1978.67 1600.58,1985.63 1603.70,1992.50 C1606.81,1999.35 1609.86,2006.22 1613.10,2013.00 C1616.40,2019.90 1620.12,2027.10 1623.50,2033.90 C1626.80,2040.53 1630.00,2047.22 1633.40,2053.80 C1636.88,2060.53 1640.73,2067.58 1644.40,2074.30 C1648.02,2080.93 1651.60,2087.58 1655.40,2094.10 C1659.25,2100.70 1663.35,2107.48 1667.50,2113.90 C1671.60,2120.24 1675.27,2127.02 1680.30,2132.60 C1685.33,2138.18 1691.88,2142.49 1697.70,2147.40 C1703.53,2152.32 1709.38,2157.45 1715.30,2162.10 C1721.13,2166.68 1726.88,2171.43 1733.20,2175.30 C1739.55,2179.18 1746.43,2182.62 1753.40,2185.40 C1760.37,2188.18 1767.77,2189.89 1775.00,2192.00 C1782.25,2194.12 1789.53,2196.90 1796.90,2198.10 C1804.25,2199.30 1811.76,2199.47 1819.20,2199.20 C1826.65,2198.93 1834.80,2196.87 1841.60,2196.50 C1847.73,2196.17 1856.93,2196.92 1860.00,2197.00" fill="none" stroke="#ff0000" stroke-width="5.71" stroke-linejoin="round" stroke-dasharray="5.71 17.14" stroke-dashoffset="9.34" clip-path="url(#clip21)"/>
<path d="M1396.00,2161.60 L1398.80,2163.20 L1451.70,2187.00 L1470.40,2196.30 L1474.80,2200.20 L1484.70,2214.60 L1517.80,2264.50 L1555.20,2304.20 L1583.80,2372.50 L1610.30,2383.50 L1630.10,2372.50 L1647.70,2320.70 L1663.10,2297.60 L1678.50,2284.40 L1691.80,2256.80 L1703.90,2251.30 L1716.00,2234.80 L1734.70,2216.10 L1743.50,2214.30 L1751.20,2209.20 L1761.20,2202.50 L1775.70,2198.10 L1782.40,2200.30 L1794.70,2187.60 L1802.50,2193.60 L1813.70,2190.70 L1823.70,2190.90 L1833.80,2186.90 L1844.90,2190.70 L1858.30,2193.60 L1867.20,2198.10 L1873.90,2197.00 L1882.90,2200.30 L1918.60,2200.30 L1952.00,2197.60 L1974.40,2193.60 L1990.00,2188.50 L2003.40,2184.20 L2041.30,2185.80 L2074.80,2190.70 L2094.90,2197.00 L2110.00,2197.00" fill="none" stroke="#008000" stroke-width="5.71" stroke-linejoin="round" clip-path="url(#clip21)"/>
<path d="M1612.00,1895.00 C1613.10,1901.08 1616.62,1921.63 1618.60,1931.50 C1620.13,1939.12 1622.25,1946.67 1623.90,1954.20 C1625.54,1961.68 1626.62,1969.35 1628.50,1976.70 C1630.37,1984.00 1633.00,1991.09 1635.20,1998.30 C1637.42,2005.57 1639.60,2012.97 1641.80,2020.30 C1644.00,2027.63 1646.32,2034.97 1648.40,2042.30 C1650.47,2049.60 1652.28,2057.07 1654.30,2064.30 C1656.29,2071.45 1658.46,2078.56 1660.50,2085.70 C1662.60,2093.05 1664.55,2101.17 1666.90,2108.40 C1669.17,2115.40 1671.08,2122.78 1674.60,2129.10 C1678.12,2135.42 1683.12,2140.91 1688.00,2146.30 C1692.98,2151.80 1699.10,2156.85 1704.50,2162.10 C1709.84,2167.29 1714.74,2172.95 1720.40,2177.80 C1726.10,2182.68 1732.60,2187.12 1738.70,2191.40 C1744.68,2195.60 1750.56,2200.03 1757.00,2203.50 C1763.55,2207.03 1770.83,2209.98 1778.00,2212.60 C1785.22,2215.23 1792.87,2217.43 1800.30,2219.30 C1807.65,2221.15 1815.10,2222.69 1822.60,2223.80 C1830.15,2224.92 1838.05,2225.63 1845.60,2226.00 C1853.02,2226.36 1860.47,2226.18 1867.90,2226.00 C1875.48,2225.82 1883.47,2225.47 1891.10,2224.90 C1898.65,2224.34 1906.16,2223.35 1913.70,2222.60 C1921.25,2221.85 1928.88,2221.52 1936.40,2220.40 C1943.92,2219.28 1951.53,2217.83 1958.80,2215.90 C1966.00,2213.98 1973.32,2212.03 1980.00,2208.80 C1986.68,2205.57 1992.22,2199.22 1998.90,2196.50 C2005.56,2193.79 2012.92,2192.97 2020.10,2192.50 C2027.43,2192.02 2035.30,2193.15 2042.90,2193.60 C2050.53,2194.05 2058.53,2194.63 2065.90,2195.20 C2072.97,2195.74 2080.02,2196.63 2087.10,2197.00 C2094.45,2197.38 2106.18,2197.42 2110.00,2197.50" fill="none" stroke="#008000" stroke-width="5.71" stroke-linejoin="round" stroke-dasharray="5.71 17.14" stroke-dashoffset="11.49" clip-path="url(#clip21)"/>
<line x1="1452.40" y1="1924.20" x2="1452.40" y2="2471.00" stroke="#0000ff" stroke-width="2.86"/>
<line x1="1612.10" y1="1924.20" x2="1612.10" y2="2471.00" stroke="#ff0000" stroke-width="2.86"/>
<line x1="1633.50" y1="1924.20" x2="1633.50" y2="2471.00" stroke="#008000" stroke-width="2.86"/>
<line x1="1994.70" y1="1924.20" x2="1994.70" y2="2471.00" stroke="#000" stroke-width="2.86"/>
<line x1="1413.23" y1="2471.00" x2="1413.23" y2="2459.57" stroke="#000" stroke-width="2.86"/>
<line x1="1435.64" y1="2471.00" x2="1435.64" y2="2459.57" stroke="#000" stroke-width="2.86"/>
<line x1="1455.05" y1="2471.00" x2="1455.05" y2="2459.57" stroke="#000" stroke-width="2.86"/>
<line x1="1472.18" y1="2471.00" x2="1472.18" y2="2459.57" stroke="#000" stroke-width="2.86"/>
<line x1="1487.50" y1="2471.00" x2="1487.50" y2="2448.14" stroke="#000" stroke-width="2.86"/>
<line x1="1588.28" y1="2471.00" x2="1588.28" y2="2459.57" stroke="#000" stroke-width="2.86"/>
<line x1="1647.24" y1="2471.00" x2="1647.24" y2="2459.57" stroke="#000" stroke-width="2.86"/>
<line x1="1689.07" y1="2471.00" x2="1689.07" y2="2459.57" stroke="#000" stroke-width="2.86"/>
<line x1="1721.52" y1="2471.00" x2="1721.52" y2="2459.57" stroke="#000" stroke-width="2.86"/>
<line x1="1748.03" y1="2471.00" x2="1748.03" y2="2459.57" stroke="#000" stroke-width="2.86"/>
<line x1="1770.44" y1="2471.00" x2="1770.44" y2="2459.57" stroke="#000" stroke-width="2.86"/>
<line x1="1789.85" y1="2471.00" x2="1789.85" y2="2459.57" stroke="#000" stroke-width="2.86"/>
<line x1="1806.98" y1="2471.00" x2="1806.98" y2="2459.57" stroke="#000" stroke-width="2.86"/>
<line x1="1822.30" y1="2471.00" x2="1822.30" y2="2448.14" stroke="#000" stroke-width="2.86"/>
<line x1="1923.08" y1="2471.00" x2="1923.08" y2="2459.57" stroke="#000" stroke-width="2.86"/>
<line x1="1982.04" y1="2471.00" x2="1982.04" y2="2459.57" stroke="#000" stroke-width="2.86"/>
<line x1="2023.87" y1="2471.00" x2="2023.87" y2="2459.57" stroke="#000" stroke-width="2.86"/>
<line x1="2056.32" y1="2471.00" x2="2056.32" y2="2459.57" stroke="#000" stroke-width="2.86"/>
<line x1="2082.83" y1="2471.00" x2="2082.83" y2="2459.57" stroke="#000" stroke-width="2.86"/>
<line x1="2105.24" y1="2471.00" x2="2105.24" y2="2459.57" stroke="#000" stroke-width="2.86"/>
<line x1="2104.85" y1="1924.20" x2="2104.85" y2="1935.63" stroke="#000" stroke-width="2.86"/>
<line x1="2089.53" y1="1924.20" x2="2089.53" y2="1947.06" stroke="#000" stroke-width="2.86"/>
<line x1="1988.75" y1="1924.20" x2="1988.75" y2="1935.63" stroke="#000" stroke-width="2.86"/>
<line x1="1929.79" y1="1924.20" x2="1929.79" y2="1935.63" stroke="#000" stroke-width="2.86"/>
<line x1="1887.96" y1="1924.20" x2="1887.96" y2="1935.63" stroke="#000" stroke-width="2.86"/>
<line x1="1855.52" y1="1924.20" x2="1855.52" y2="1935.63" stroke="#000" stroke-width="2.86"/>
<line x1="1829.01" y1="1924.20" x2="1829.01" y2="1935.63" stroke="#000" stroke-width="2.86"/>
<line x1="1806.59" y1="1924.20" x2="1806.59" y2="1935.63" stroke="#000" stroke-width="2.86"/>
<line x1="1787.18" y1="1924.20" x2="1787.18" y2="1935.63" stroke="#000" stroke-width="2.86"/>
<line x1="1770.05" y1="1924.20" x2="1770.05" y2="1935.63" stroke="#000" stroke-width="2.86"/>
<line x1="1754.73" y1="1924.20" x2="1754.73" y2="1947.06" stroke="#000" stroke-width="2.86"/>
<line x1="1653.95" y1="1924.20" x2="1653.95" y2="1935.63" stroke="#000" stroke-width="2.86"/>
<line x1="1594.99" y1="1924.20" x2="1594.99" y2="1935.63" stroke="#000" stroke-width="2.86"/>
<line x1="1553.16" y1="1924.20" x2="1553.16" y2="1935.63" stroke="#000" stroke-width="2.86"/>
<line x1="1520.72" y1="1924.20" x2="1520.72" y2="1935.63" stroke="#000" stroke-width="2.86"/>
<line x1="1494.21" y1="1924.20" x2="1494.21" y2="1935.63" stroke="#000" stroke-width="2.86"/>
<line x1="1471.79" y1="1924.20" x2="1471.79" y2="1935.63" stroke="#000" stroke-width="2.86"/>
<line x1="1452.38" y1="1924.20" x2="1452.38" y2="1935.63" stroke="#000" stroke-width="2.86"/>
<line x1="1435.25" y1="1924.20" x2="1435.25" y2="1935.63" stroke="#000" stroke-width="2.86"/>
<line x1="1419.93" y1="1924.20" x2="1419.93" y2="1947.06" stroke="#000" stroke-width="2.86"/>
<line x1="1396.00" y1="1924.20" x2="1418.86" y2="1924.20" stroke="#000" stroke-width="2.86"/>
<line x1="2110.00" y1="1924.20" x2="2087.14" y2="1924.20" stroke="#000" stroke-width="2.86"/>
<line x1="1396.00" y1="2060.90" x2="1418.86" y2="2060.90" stroke="#000" stroke-width="2.86"/>
<line x1="2110.00" y1="2060.90" x2="2087.14" y2="2060.90" stroke="#000" stroke-width="2.86"/>
<line x1="1396.00" y1="2197.60" x2="1418.86" y2="2197.60" stroke="#000" stroke-width="2.86"/>
<line x1="2110.00" y1="2197.60" x2="2087.14" y2="2197.60" stroke="#000" stroke-width="2.86"/>
<line x1="1396.00" y1="2334.30" x2="1418.86" y2="2334.30" stroke="#000" stroke-width="2.86"/>
<line x1="2110.00" y1="2334.30" x2="2087.14" y2="2334.30" stroke="#000" stroke-width="2.86"/>
<line x1="1396.00" y1="2471.00" x2="1418.86" y2="2471.00" stroke="#000" stroke-width="2.86"/>
<line x1="2110.00" y1="2471.00" x2="2087.14" y2="2471.00" stroke="#000" stroke-width="2.86"/>
<rect x="1396.00" y="1924.20" width="714.00" height="546.80" fill="none" stroke="#000" stroke-width="5.71"/>
<text x="1263.30" y="1934.20" font-size="47.60" textLength="47.82" lengthAdjust="spacingAndGlyphs">10</text>
<text x="1311.61" y="1920.90" font-size="35.80" textLength="25.94" lengthAdjust="spacingAndGlyphs">−</text>
<text x="1337.55" y="1917.90" font-size="35.80">10</text>
<text x="1263.30" y="2070.90" font-size="47.60" textLength="47.82" lengthAdjust="spacingAndGlyphs">10</text>
<text x="1311.61" y="2057.60" font-size="35.80" textLength="25.94" lengthAdjust="spacingAndGlyphs">−</text>
<text x="1337.55" y="2054.60" font-size="35.80">11</text>
<text x="1208.73" y="2070.90" font-size="47.60">5</text>
<text x="1241.49" y="2074.40" font-size="47.60">·</text>
<text x="1338.19" y="2207.60" font-size="47.60">0.</text>
<text x="1263.30" y="2344.30" font-size="47.60" textLength="47.82" lengthAdjust="spacingAndGlyphs">10</text>
<text x="1311.61" y="2331.00" font-size="35.80" textLength="25.94" lengthAdjust="spacingAndGlyphs">−</text>
<text x="1337.55" y="2328.00" font-size="35.80">11</text>
<text x="1208.73" y="2344.30" font-size="47.60">5</text>
<text x="1241.49" y="2347.80" font-size="47.60">·</text>
<text x="1173.80" y="2348.30" font-size="47.60" textLength="35.15" lengthAdjust="spacingAndGlyphs">−</text>
<text x="1263.30" y="2481.00" font-size="47.60" textLength="47.82" lengthAdjust="spacingAndGlyphs">10</text>
<text x="1311.61" y="2467.70" font-size="35.80" textLength="25.94" lengthAdjust="spacingAndGlyphs">−</text>
<text x="1337.55" y="2464.70" font-size="35.80">10</text>
<text x="1229.24" y="2485.00" font-size="47.60" textLength="34.66" lengthAdjust="spacingAndGlyphs">−</text>
<text x="1440.10" y="2526.30" font-size="47.60" textLength="47.82" lengthAdjust="spacingAndGlyphs">10</text>
<text x="1488.61" y="2513.00" font-size="35.80" textLength="25.94" lengthAdjust="spacingAndGlyphs">−</text>
<text x="1515.52" y="2510.00" font-size="35.80">5</text>
<text x="1774.90" y="2526.30" font-size="47.60" textLength="47.82" lengthAdjust="spacingAndGlyphs">10</text>
<text x="1823.41" y="2513.00" font-size="35.80" textLength="25.94" lengthAdjust="spacingAndGlyphs">−</text>
<text x="1851.70" y="2510.00" font-size="35.80">4</text>
<text x="1386.43" y="1888.60" font-size="47.60" textLength="47.82" lengthAdjust="spacingAndGlyphs">10</text>
<text x="1431.72" y="1872.30" font-size="35.80">3</text>
<text x="1721.23" y="1888.60" font-size="47.60" textLength="47.82" lengthAdjust="spacingAndGlyphs">10</text>
<text x="1766.66" y="1872.30" font-size="35.80">2</text>
<text x="2056.03" y="1888.60" font-size="47.60" textLength="47.82" lengthAdjust="spacingAndGlyphs">10</text>
<text x="2103.38" y="1872.30" font-size="35.80">1</text>
<text x="1581.55" y="1827.80" font-size="47.20" textLength="238.90" lengthAdjust="spacingAndGlyphs">Wavelength</text>
<text x="1835.07" y="1831.80" font-size="57.40" textLength="10.02" lengthAdjust="spacingAndGlyphs">[</text>
<text x="1845.93" y="1827.80" font-size="47.20" textLength="65.12" lengthAdjust="spacingAndGlyphs">km</text>
<text x="1911.91" y="1831.80" font-size="57.40" textLength="10.02" lengthAdjust="spacingAndGlyphs">]</text>
<text x="1554.35" y="2606.60" font-size="47.20" textLength="268.89" lengthAdjust="spacingAndGlyphs">Wavenumber</text>
<text x="1839.03" y="2610.60" font-size="57.40" textLength="10.17" lengthAdjust="spacingAndGlyphs">[</text>
<text x="1849.70" y="2606.60" font-size="47.20" textLength="40.93" lengthAdjust="spacingAndGlyphs">m</text>
<text x="1890.56" y="2592.50" font-size="35.80" textLength="26.54" lengthAdjust="spacingAndGlyphs">−</text>
<text x="1916.58" y="2589.20" font-size="35.80" textLength="17.75" lengthAdjust="spacingAndGlyphs">1</text>
<text x="1939.00" y="2610.60" font-size="57.40" textLength="10.17" lengthAdjust="spacingAndGlyphs">]</text>
<g transform="translate(1132.00,2320.50) rotate(-90)">
<text x="-1.41" y="0.00" font-size="47.20" textLength="89.71" lengthAdjust="spacingAndGlyphs">Flux</text>
<text x="103.40" y="4.00" font-size="57.40" textLength="9.87" lengthAdjust="spacingAndGlyphs">[</text>
<text x="114.00" y="0.00" font-size="47.20" textLength="40.72" lengthAdjust="spacingAndGlyphs">m</text>
<text x="164.46" y="0.00" font-size="47.20" textLength="20.33" lengthAdjust="spacingAndGlyphs">s</text>
<text x="185.68" y="-13.00" font-size="35.80" textLength="26.30" lengthAdjust="spacingAndGlyphs">−</text>
<text x="211.59" y="-15.00" font-size="35.80" textLength="18.88" lengthAdjust="spacingAndGlyphs">3</text>
<text x="234.03" y="4.00" font-size="57.40" textLength="9.87" lengthAdjust="spacingAndGlyphs">]</text>
</g>
<text x="1950.20" y="2449.50" font-size="60.30" textLength="125.57" lengthAdjust="spacingAndGlyphs">ACC</text>
<rect x="394" y="2679" width="600" height="175" fill="#fff" stroke="#000" stroke-width="5.71"/>
<path d="M417.5,2708.2 L471.2,2708.2" stroke="#0000ff" stroke-width="5.71" stroke-dasharray="34.29 34.29"/>
<text x="502.68" y="2712.50" font-size="34.70" textLength="28.17" lengthAdjust="spacingAndGlyphs">Π</text>
<text x="533.40" y="2720.80" font-size="28.00" textLength="98.71" lengthAdjust="spacingAndGlyphs">bc,bc,bc</text>
<text x="640.74" y="2712.50" font-size="34.70" textLength="27.88" lengthAdjust="spacingAndGlyphs">+</text>
<text x="675.28" y="2712.50" font-size="34.70" textLength="28.06" lengthAdjust="spacingAndGlyphs">Π</text>
<text x="705.90" y="2720.80" font-size="28.00" textLength="94.27" lengthAdjust="spacingAndGlyphs">bc,bc,bt</text>
<text x="811.65" y="2712.50" font-size="34.70" textLength="116.08" lengthAdjust="spacingAndGlyphs">ORCA1</text>
<path d="M417.5,2763.4 L471.2,2763.4" stroke="#ff0000" stroke-width="5.71" stroke-dasharray="34.29 34.29"/>
<text x="502.68" y="2767.20" font-size="34.70" textLength="28.17" lengthAdjust="spacingAndGlyphs">Π</text>
<text x="533.40" y="2775.50" font-size="28.00" textLength="98.71" lengthAdjust="spacingAndGlyphs">bc,bc,bc</text>
<text x="640.74" y="2767.20" font-size="34.70" textLength="27.88" lengthAdjust="spacingAndGlyphs">+</text>
<text x="675.28" y="2767.20" font-size="34.70" textLength="28.06" lengthAdjust="spacingAndGlyphs">Π</text>
<text x="705.90" y="2775.50" font-size="28.00" textLength="94.27" lengthAdjust="spacingAndGlyphs">bc,bc,bt</text>
<text x="811.65" y="2767.20" font-size="34.70" textLength="150.92" lengthAdjust="spacingAndGlyphs">ORCA025</text>
<path d="M417.5,2819.3 L471.2,2819.3" stroke="#008000" stroke-width="5.71" stroke-dasharray="34.29 34.29"/>
<text x="502.68" y="2822.00" font-size="34.70" textLength="28.17" lengthAdjust="spacingAndGlyphs">Π</text>
<text x="533.40" y="2830.30" font-size="28.00" textLength="98.71" lengthAdjust="spacingAndGlyphs">bc,bc,bc</text>
<text x="640.74" y="2822.00" font-size="34.70" textLength="27.88" lengthAdjust="spacingAndGlyphs">+</text>
<text x="675.28" y="2822.00" font-size="34.70" textLength="28.06" lengthAdjust="spacingAndGlyphs">Π</text>
<text x="705.90" y="2830.30" font-size="28.00" textLength="94.27" lengthAdjust="spacingAndGlyphs">bc,bc,bt</text>
<text x="811.65" y="2822.00" font-size="34.70" textLength="168.52" lengthAdjust="spacingAndGlyphs">ORCA0083</text>
<rect x="1317" y="2679" width="871.2" height="175" fill="#fff" stroke="#000" stroke-width="5.71"/>
<path d="M1337.5,2708.3 L1391.2,2708.3" stroke="#0000ff" stroke-width="5.71"/>
<text x="1425.38" y="2712.50" font-size="34.70" textLength="28.17" lengthAdjust="spacingAndGlyphs">Π</text>
<text x="1455.50" y="2720.80" font-size="28.00" textLength="88.38" lengthAdjust="spacingAndGlyphs">bt,bt,bt</text>
<text x="1554.53" y="2712.50" font-size="34.70" textLength="117.32" lengthAdjust="spacingAndGlyphs">ORCA1</text>
<path d="M1340.3,2763.5 L1388.5,2763.5" stroke="#0000ff" stroke-width="5.71" stroke-dasharray="5.71 17.14"/>
<text x="1425.38" y="2767.20" font-size="34.70" textLength="28.17" lengthAdjust="spacingAndGlyphs">Π</text>
<text x="1455.50" y="2775.50" font-size="28.00" textLength="95.93" lengthAdjust="spacingAndGlyphs">bt,bc,bc</text>
<text x="1561.43" y="2767.20" font-size="34.70" textLength="117.21" lengthAdjust="spacingAndGlyphs">ORCA1</text>
<path d="M1337.5,2819.2 L1391.2,2819.2" stroke="#ff0000" stroke-width="5.71"/>
<text x="1425.38" y="2822.00" font-size="34.70" textLength="28.17" lengthAdjust="spacingAndGlyphs">Π</text>
<text x="1455.50" y="2830.30" font-size="28.00" textLength="88.38" lengthAdjust="spacingAndGlyphs">bt,bt,bt</text>
<text x="1554.55" y="2822.00" font-size="34.70" textLength="151.54" lengthAdjust="spacingAndGlyphs">ORCA025</text>
<path d="M1785.1,2708.3 L1833.3,2708.3" stroke="#ff0000" stroke-width="5.71" stroke-dasharray="5.71 17.14"/>
<text x="1870.18" y="2712.50" font-size="34.70" textLength="28.17" lengthAdjust="spacingAndGlyphs">Π</text>
<text x="1901.40" y="2720.80" font-size="28.00" textLength="94.72" lengthAdjust="spacingAndGlyphs">bt,bc,bc</text>
<text x="2006.04" y="2712.50" font-size="34.70" textLength="152.15" lengthAdjust="spacingAndGlyphs">ORCA025</text>
<path d="M1782.3,2763.5 L1836.0,2763.5" stroke="#008000" stroke-width="5.71"/>
<text x="1870.18" y="2767.20" font-size="34.70" textLength="28.17" lengthAdjust="spacingAndGlyphs">Π</text>
<text x="1901.40" y="2775.50" font-size="28.00" textLength="86.68" lengthAdjust="spacingAndGlyphs">bt,bt,bt</text>
<text x="1999.55" y="2767.20" font-size="34.70" textLength="168.63" lengthAdjust="spacingAndGlyphs">ORCA0083</text>
<path d="M1785.1,2819.2 L1833.3,2819.2" stroke="#008000" stroke-width="5.71" stroke-dasharray="5.71 17.14"/>
<text x="1870.18" y="2822.00" font-size="34.70" textLength="28.17" lengthAdjust="spacingAndGlyphs">Π</text>
<text x="1901.40" y="2830.30" font-size="28.00" textLength="94.72" lengthAdjust="spacingAndGlyphs">bt,bc,bc</text>
<text x="2006.05" y="2822.00" font-size="34.70" textLength="169.13" lengthAdjust="spacingAndGlyphs">ORCA0083</text>
</g></svg>
</body></html>
